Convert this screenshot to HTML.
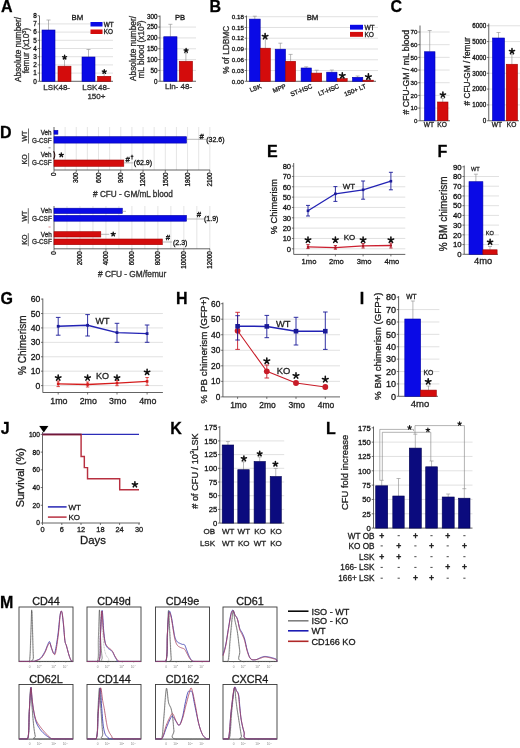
<!DOCTYPE html>
<html><head><meta charset="utf-8"><style>
html,body{margin:0;padding:0;background:#fff;}
body{width:520px;height:748px;overflow:hidden;}
svg{display:block;will-change:transform;filter:blur(0.5px);font-family:"Liberation Sans", sans-serif;}
text{stroke:#1a1a1a;stroke-width:0.3px;paint-order:stroke;}
</style></head><body>
<svg width="520" height="748" viewBox="0 0 520 748">
<rect width="520" height="748" fill="#fff"/>
<text x="0.9" y="12.2" font-size="16" font-weight="bold" fill="#000">A</text>
<line x1="39.5" y1="73.1" x2="113" y2="73.1" stroke="#d4d4d4" stroke-width="0.7"/>
<line x1="39.5" y1="64.9" x2="113" y2="64.9" stroke="#d4d4d4" stroke-width="0.7"/>
<line x1="39.5" y1="56.7" x2="113" y2="56.7" stroke="#d4d4d4" stroke-width="0.7"/>
<line x1="39.5" y1="48.5" x2="113" y2="48.5" stroke="#d4d4d4" stroke-width="0.7"/>
<line x1="39.5" y1="40.3" x2="113" y2="40.3" stroke="#d4d4d4" stroke-width="0.7"/>
<line x1="39.5" y1="32.1" x2="113" y2="32.1" stroke="#d4d4d4" stroke-width="0.7"/>
<line x1="39.5" y1="23.9" x2="113" y2="23.9" stroke="#d4d4d4" stroke-width="0.7"/>
<line x1="39.5" y1="15.8" x2="39.5" y2="81.3" stroke="#3c3c3c" stroke-width="0.8"/>
<line x1="37.7" y1="81.3" x2="39.5" y2="81.3" stroke="#3c3c3c" stroke-width="0.7"/>
<text x="36.9" y="83.6" font-size="6.4" text-anchor="end" fill="#111">0</text>
<line x1="37.7" y1="73.1" x2="39.5" y2="73.1" stroke="#3c3c3c" stroke-width="0.7"/>
<text x="36.9" y="75.4" font-size="6.4" text-anchor="end" fill="#111">1</text>
<line x1="37.7" y1="64.9" x2="39.5" y2="64.9" stroke="#3c3c3c" stroke-width="0.7"/>
<text x="36.9" y="67.2" font-size="6.4" text-anchor="end" fill="#111">2</text>
<line x1="37.7" y1="56.7" x2="39.5" y2="56.7" stroke="#3c3c3c" stroke-width="0.7"/>
<text x="36.9" y="59" font-size="6.4" text-anchor="end" fill="#111">3</text>
<line x1="37.7" y1="48.5" x2="39.5" y2="48.5" stroke="#3c3c3c" stroke-width="0.7"/>
<text x="36.9" y="50.8" font-size="6.4" text-anchor="end" fill="#111">4</text>
<line x1="37.7" y1="40.3" x2="39.5" y2="40.3" stroke="#3c3c3c" stroke-width="0.7"/>
<text x="36.9" y="42.6" font-size="6.4" text-anchor="end" fill="#111">5</text>
<line x1="37.7" y1="32.1" x2="39.5" y2="32.1" stroke="#3c3c3c" stroke-width="0.7"/>
<text x="36.9" y="34.4" font-size="6.4" text-anchor="end" fill="#111">6</text>
<line x1="37.7" y1="23.9" x2="39.5" y2="23.9" stroke="#3c3c3c" stroke-width="0.7"/>
<text x="36.9" y="26.2" font-size="6.4" text-anchor="end" fill="#111">7</text>
<line x1="37.7" y1="15.7" x2="39.5" y2="15.7" stroke="#3c3c3c" stroke-width="0.7"/>
<text x="36.9" y="18" font-size="6.4" text-anchor="end" fill="#111">8</text>
<line x1="39.5" y1="81.3" x2="113" y2="81.3" stroke="#3c3c3c" stroke-width="0.8"/>
<line x1="48.5" y1="30" x2="48.5" y2="20" stroke="#8a8a8a" stroke-width="0.6"/>
<line x1="46.5" y1="20" x2="50.5" y2="20" stroke="#8a8a8a" stroke-width="0.6"/>
<line x1="64.5" y1="66.2" x2="64.5" y2="58.5" stroke="#8a8a8a" stroke-width="0.6"/>
<line x1="62.5" y1="58.5" x2="66.5" y2="58.5" stroke="#8a8a8a" stroke-width="0.6"/>
<line x1="88.5" y1="57" x2="88.5" y2="49.5" stroke="#8a8a8a" stroke-width="0.6"/>
<line x1="86.5" y1="49.5" x2="90.5" y2="49.5" stroke="#8a8a8a" stroke-width="0.6"/>
<line x1="104.15" y1="76.3" x2="104.15" y2="72.5" stroke="#8a8a8a" stroke-width="0.6"/>
<line x1="102.15" y1="72.5" x2="106.15" y2="72.5" stroke="#8a8a8a" stroke-width="0.6"/>
<rect x="42" y="30" width="13" height="51.3" fill="#0a0ae6" stroke="#0000a8" stroke-width="0.6"/>
<rect x="58" y="66.2" width="13" height="15.1" fill="#d40c0c" stroke="#a00000" stroke-width="0.6"/>
<rect x="82" y="57" width="13" height="24.3" fill="#0a0ae6" stroke="#0000a8" stroke-width="0.6"/>
<rect x="97.5" y="76.3" width="13.3" height="5" fill="#d40c0c" stroke="#a00000" stroke-width="0.6"/>
<path d="M64.6 57.3 L64.6 55.18 M64.6 57.3 L66.61 56.65 M64.6 57.3 L65.84 59.01 M64.6 57.3 L63.36 59.01 M64.6 57.3 L62.59 56.65" stroke="#111" stroke-width="1.35" stroke-linecap="round" fill="none"/>
<path d="M104.3 71.7 L104.3 69.58 M104.3 71.7 L106.31 71.05 M104.3 71.7 L105.54 73.41 M104.3 71.7 L103.06 73.41 M104.3 71.7 L102.29 71.05" stroke="#111" stroke-width="1.35" stroke-linecap="round" fill="none"/>
<rect x="90.5" y="22" width="12" height="4.5" fill="#0a0ae6"/>
<rect x="90.5" y="29.5" width="12" height="4.5" fill="#d40c0c"/>
<text x="103.8" y="26.7" font-size="6.4" fill="#222">WT</text>
<text x="103.8" y="34.2" font-size="6.4" fill="#222">KO</text>
<text x="77.3" y="20" font-size="7.8" text-anchor="middle" fill="#222">BM</text>
<text x="56.7" y="89.8" font-size="8" text-anchor="middle" fill="#333">LSK48-</text>
<text x="95.9" y="89.8" font-size="8" text-anchor="middle" fill="#333">LSK<tspan dx="0.7">48-</tspan></text>
<text x="96.4" y="98.9" font-size="8" text-anchor="middle" fill="#333">150+</text>
<text x="20.9" y="49.5" font-size="8.3" text-anchor="middle" fill="#333" transform="rotate(-90 20.9 49.5)">Absolute number/</text>
<text x="29.3" y="50.6" font-size="8.3" text-anchor="middle" fill="#333" transform="rotate(-90 29.3 50.6)">femur (x10<tspan font-size="5.5" dy="-3.2">3</tspan><tspan dy="3.2">)</tspan></text>
<line x1="160" y1="70.42" x2="196" y2="70.42" stroke="#d4d4d4" stroke-width="0.7"/>
<line x1="160" y1="59.58" x2="196" y2="59.58" stroke="#d4d4d4" stroke-width="0.7"/>
<line x1="160" y1="48.75" x2="196" y2="48.75" stroke="#d4d4d4" stroke-width="0.7"/>
<line x1="160" y1="37.92" x2="196" y2="37.92" stroke="#d4d4d4" stroke-width="0.7"/>
<line x1="160" y1="27.08" x2="196" y2="27.08" stroke="#d4d4d4" stroke-width="0.7"/>
<line x1="160" y1="15.5" x2="160" y2="81.25" stroke="#3c3c3c" stroke-width="0.8"/>
<line x1="158.2" y1="81.25" x2="160" y2="81.25" stroke="#3c3c3c" stroke-width="0.7"/>
<text x="157.4" y="83.52" font-size="6.3" text-anchor="end" fill="#111">0</text>
<line x1="158.2" y1="70.42" x2="160" y2="70.42" stroke="#3c3c3c" stroke-width="0.7"/>
<text x="157.4" y="72.68" font-size="6.3" text-anchor="end" fill="#111">50</text>
<line x1="158.2" y1="59.58" x2="160" y2="59.58" stroke="#3c3c3c" stroke-width="0.7"/>
<text x="157.4" y="61.85" font-size="6.3" text-anchor="end" fill="#111">100</text>
<line x1="158.2" y1="48.75" x2="160" y2="48.75" stroke="#3c3c3c" stroke-width="0.7"/>
<text x="157.4" y="51.02" font-size="6.3" text-anchor="end" fill="#111">150</text>
<line x1="158.2" y1="37.92" x2="160" y2="37.92" stroke="#3c3c3c" stroke-width="0.7"/>
<text x="157.4" y="40.18" font-size="6.3" text-anchor="end" fill="#111">200</text>
<line x1="158.2" y1="27.08" x2="160" y2="27.08" stroke="#3c3c3c" stroke-width="0.7"/>
<text x="157.4" y="29.35" font-size="6.3" text-anchor="end" fill="#111">250</text>
<line x1="158.2" y1="16.25" x2="160" y2="16.25" stroke="#3c3c3c" stroke-width="0.7"/>
<text x="157.4" y="18.52" font-size="6.3" text-anchor="end" fill="#111">300</text>
<line x1="160" y1="81.25" x2="196" y2="81.25" stroke="#3c3c3c" stroke-width="0.8"/>
<line x1="170.4" y1="36.75" x2="170.4" y2="24.3" stroke="#8a8a8a" stroke-width="0.6"/>
<line x1="168.4" y1="24.3" x2="172.4" y2="24.3" stroke="#8a8a8a" stroke-width="0.6"/>
<line x1="185.9" y1="61.25" x2="185.9" y2="53" stroke="#8a8a8a" stroke-width="0.6"/>
<line x1="183.9" y1="53" x2="187.9" y2="53" stroke="#8a8a8a" stroke-width="0.6"/>
<rect x="163.75" y="36.75" width="13.25" height="44.5" fill="#0a0ae6" stroke="#0000a8" stroke-width="0.6"/>
<rect x="179.25" y="61.25" width="13.25" height="20" fill="#d40c0c" stroke="#a00000" stroke-width="0.6"/>
<path d="M186.1 50.5 L186.1 48.38 M186.1 50.5 L188.11 49.85 M186.1 50.5 L187.34 52.21 M186.1 50.5 L184.86 52.21 M186.1 50.5 L184.09 49.85" stroke="#111" stroke-width="1.35" stroke-linecap="round" fill="none"/>
<text x="180" y="19.8" font-size="7.6" text-anchor="middle" fill="#111">PB</text>
<text x="178.5" y="89.2" font-size="8" text-anchor="middle" fill="#333">Lin- 48-</text>
<text x="135.8" y="48.5" font-size="8.3" text-anchor="middle" fill="#333" transform="rotate(-90 135.8 48.5)">Absolute number/</text>
<text x="144" y="49.5" font-size="8.3" text-anchor="middle" fill="#333" transform="rotate(-90 144 49.5)">mL blood (x10<tspan font-size="5.5" dy="-3.2">3</tspan><tspan dy="3.2">)</tspan></text>
<text x="209.6" y="12.2" font-size="16" font-weight="bold" fill="#000">B</text>
<line x1="246.5" y1="70.53" x2="378" y2="70.53" stroke="#d4d4d4" stroke-width="0.7"/>
<line x1="246.5" y1="59.77" x2="378" y2="59.77" stroke="#d4d4d4" stroke-width="0.7"/>
<line x1="246.5" y1="49" x2="378" y2="49" stroke="#d4d4d4" stroke-width="0.7"/>
<line x1="246.5" y1="38.23" x2="378" y2="38.23" stroke="#d4d4d4" stroke-width="0.7"/>
<line x1="246.5" y1="27.47" x2="378" y2="27.47" stroke="#d4d4d4" stroke-width="0.7"/>
<line x1="246.5" y1="16.7" x2="378" y2="16.7" stroke="#d4d4d4" stroke-width="0.7"/>
<line x1="246.5" y1="15.5" x2="246.5" y2="81.3" stroke="#3c3c3c" stroke-width="0.8"/>
<line x1="244.7" y1="81.3" x2="246.5" y2="81.3" stroke="#3c3c3c" stroke-width="0.7"/>
<text x="243.9" y="83.53" font-size="6.2" text-anchor="end" fill="#111">0.00</text>
<line x1="244.7" y1="70.53" x2="246.5" y2="70.53" stroke="#3c3c3c" stroke-width="0.7"/>
<text x="243.9" y="72.77" font-size="6.2" text-anchor="end" fill="#111">0.03</text>
<line x1="244.7" y1="59.77" x2="246.5" y2="59.77" stroke="#3c3c3c" stroke-width="0.7"/>
<text x="243.9" y="62" font-size="6.2" text-anchor="end" fill="#111">0.06</text>
<line x1="244.7" y1="49" x2="246.5" y2="49" stroke="#3c3c3c" stroke-width="0.7"/>
<text x="243.9" y="51.23" font-size="6.2" text-anchor="end" fill="#111">0.09</text>
<line x1="244.7" y1="38.23" x2="246.5" y2="38.23" stroke="#3c3c3c" stroke-width="0.7"/>
<text x="243.9" y="40.47" font-size="6.2" text-anchor="end" fill="#111">0.12</text>
<line x1="244.7" y1="27.47" x2="246.5" y2="27.47" stroke="#3c3c3c" stroke-width="0.7"/>
<text x="243.9" y="29.7" font-size="6.2" text-anchor="end" fill="#111">0.15</text>
<line x1="244.7" y1="16.7" x2="246.5" y2="16.7" stroke="#3c3c3c" stroke-width="0.7"/>
<text x="243.9" y="18.93" font-size="6.2" text-anchor="end" fill="#111">0.18</text>
<line x1="246.5" y1="81.3" x2="376" y2="81.3" stroke="#3c3c3c" stroke-width="0.8"/>
<line x1="254.8" y1="19.1" x2="254.8" y2="16.2" stroke="#8a8a8a" stroke-width="0.6"/>
<line x1="252.8" y1="16.2" x2="256.8" y2="16.2" stroke="#8a8a8a" stroke-width="0.6"/>
<line x1="265.35" y1="48.2" x2="265.35" y2="38" stroke="#8a8a8a" stroke-width="0.6"/>
<line x1="263.35" y1="38" x2="267.35" y2="38" stroke="#8a8a8a" stroke-width="0.6"/>
<line x1="280.35" y1="49.2" x2="280.35" y2="43.2" stroke="#8a8a8a" stroke-width="0.6"/>
<line x1="278.35" y1="43.2" x2="282.35" y2="43.2" stroke="#8a8a8a" stroke-width="0.6"/>
<line x1="290.6" y1="61.3" x2="290.6" y2="54.4" stroke="#8a8a8a" stroke-width="0.6"/>
<line x1="288.6" y1="54.4" x2="292.6" y2="54.4" stroke="#8a8a8a" stroke-width="0.6"/>
<line x1="306.2" y1="68" x2="306.2" y2="66.8" stroke="#8a8a8a" stroke-width="0.6"/>
<line x1="304.2" y1="66.8" x2="308.2" y2="66.8" stroke="#8a8a8a" stroke-width="0.6"/>
<line x1="316.65" y1="73.1" x2="316.65" y2="70.2" stroke="#8a8a8a" stroke-width="0.6"/>
<line x1="314.65" y1="70.2" x2="318.65" y2="70.2" stroke="#8a8a8a" stroke-width="0.6"/>
<line x1="331.85" y1="72.2" x2="331.85" y2="70" stroke="#8a8a8a" stroke-width="0.6"/>
<line x1="329.85" y1="70" x2="333.85" y2="70" stroke="#8a8a8a" stroke-width="0.6"/>
<line x1="342.15" y1="78.6" x2="342.15" y2="77.5" stroke="#8a8a8a" stroke-width="0.6"/>
<line x1="340.15" y1="77.5" x2="344.15" y2="77.5" stroke="#8a8a8a" stroke-width="0.6"/>
<line x1="357.65" y1="77.3" x2="357.65" y2="76" stroke="#8a8a8a" stroke-width="0.6"/>
<line x1="355.65" y1="76" x2="359.65" y2="76" stroke="#8a8a8a" stroke-width="0.6"/>
<line x1="368.1" y1="80.2" x2="368.1" y2="79.5" stroke="#8a8a8a" stroke-width="0.6"/>
<line x1="366.1" y1="79.5" x2="370.1" y2="79.5" stroke="#8a8a8a" stroke-width="0.6"/>
<rect x="249.4" y="19.1" width="10.8" height="62.2" fill="#0a0ae6" stroke="#0000a8" stroke-width="0.6"/>
<rect x="260.4" y="48.2" width="9.9" height="33.1" fill="#d40c0c" stroke="#a00000" stroke-width="0.6"/>
<rect x="275.2" y="49.2" width="10.3" height="32.1" fill="#0a0ae6" stroke="#0000a8" stroke-width="0.6"/>
<rect x="285.6" y="61.3" width="10" height="20" fill="#d40c0c" stroke="#a00000" stroke-width="0.6"/>
<rect x="301.1" y="68" width="10.2" height="13.3" fill="#0a0ae6" stroke="#0000a8" stroke-width="0.6"/>
<rect x="311.6" y="73.1" width="10.1" height="8.2" fill="#d40c0c" stroke="#a00000" stroke-width="0.6"/>
<rect x="326.7" y="72.2" width="10.3" height="9.1" fill="#0a0ae6" stroke="#0000a8" stroke-width="0.6"/>
<rect x="337.1" y="78.6" width="10.1" height="2.7" fill="#d40c0c" stroke="#a00000" stroke-width="0.6"/>
<rect x="352.5" y="77.3" width="10.3" height="4" fill="#0a0ae6" stroke="#0000a8" stroke-width="0.6"/>
<rect x="362.9" y="80.2" width="10.4" height="1.1" fill="#d40c0c" stroke="#a00000" stroke-width="0.6"/>
<path d="M265.1 36.5 L265.1 33.56 M265.1 36.5 L267.9 35.59 M265.1 36.5 L266.83 38.88 M265.1 36.5 L263.37 38.88 M265.1 36.5 L262.3 35.59" stroke="#111" stroke-width="1.55" stroke-linecap="round" fill="none"/>
<path d="M342.3 75.6 L342.3 72.66 M342.3 75.6 L345.1 74.69 M342.3 75.6 L344.03 77.98 M342.3 75.6 L340.57 77.98 M342.3 75.6 L339.5 74.69" stroke="#111" stroke-width="1.55" stroke-linecap="round" fill="none"/>
<path d="M368.4 76.8 L368.4 73.86 M368.4 76.8 L371.2 75.89 M368.4 76.8 L370.13 79.18 M368.4 76.8 L366.67 79.18 M368.4 76.8 L365.6 75.89" stroke="#111" stroke-width="1.55" stroke-linecap="round" fill="none"/>
<rect x="350" y="24.8" width="13" height="4.8" fill="#0a0ae6"/>
<rect x="350" y="31.9" width="13" height="4.9" fill="#d40c0c"/>
<text x="364.4" y="29.7" font-size="6.6" fill="#222">WT</text>
<text x="364.4" y="36.9" font-size="6.6" fill="#222">KO</text>
<text x="312.5" y="19.9" font-size="7.8" text-anchor="middle" fill="#222">BM</text>
<text font-size="6.3" text-anchor="end" fill="#222" transform="translate(261.8 87.9) rotate(-22)">LSK</text>
<text font-size="6.3" text-anchor="end" fill="#222" transform="translate(286.5 87.9) rotate(-22)">MPP</text>
<text font-size="6.3" text-anchor="end" fill="#222" transform="translate(312.8 87.9) rotate(-22)">ST-HSC</text>
<text font-size="6.3" text-anchor="end" fill="#222" transform="translate(339.5 87.9) rotate(-22)">LT-HSC</text>
<text font-size="6.3" text-anchor="end" fill="#222" transform="translate(366.5 87.9) rotate(-22)">150+ LT</text>
<text x="228.8" y="49.7" font-size="8.3" text-anchor="middle" fill="#333" transform="rotate(-90 228.8 49.7)">% of LDBMC</text>
<text x="390.4" y="12.2" font-size="16" font-weight="bold" fill="#000">C</text>
<line x1="420" y1="108.07" x2="449.6" y2="108.07" stroke="#d4d4d4" stroke-width="0.7"/>
<line x1="420" y1="95.39" x2="449.6" y2="95.39" stroke="#d4d4d4" stroke-width="0.7"/>
<line x1="420" y1="82.71" x2="449.6" y2="82.71" stroke="#d4d4d4" stroke-width="0.7"/>
<line x1="420" y1="70.04" x2="449.6" y2="70.04" stroke="#d4d4d4" stroke-width="0.7"/>
<line x1="420" y1="57.36" x2="449.6" y2="57.36" stroke="#d4d4d4" stroke-width="0.7"/>
<line x1="420" y1="44.68" x2="449.6" y2="44.68" stroke="#d4d4d4" stroke-width="0.7"/>
<line x1="420" y1="32" x2="449.6" y2="32" stroke="#d4d4d4" stroke-width="0.7"/>
<line x1="420" y1="25.5" x2="420" y2="120.75" stroke="#3c3c3c" stroke-width="0.8"/>
<line x1="418.2" y1="120.75" x2="420" y2="120.75" stroke="#3c3c3c" stroke-width="0.7"/>
<text x="417.4" y="122.98" font-size="6.2" text-anchor="end" fill="#111">0</text>
<line x1="418.2" y1="108.07" x2="420" y2="108.07" stroke="#3c3c3c" stroke-width="0.7"/>
<text x="417.4" y="110.3" font-size="6.2" text-anchor="end" fill="#111">10</text>
<line x1="418.2" y1="95.39" x2="420" y2="95.39" stroke="#3c3c3c" stroke-width="0.7"/>
<text x="417.4" y="97.62" font-size="6.2" text-anchor="end" fill="#111">20</text>
<line x1="418.2" y1="82.71" x2="420" y2="82.71" stroke="#3c3c3c" stroke-width="0.7"/>
<text x="417.4" y="84.95" font-size="6.2" text-anchor="end" fill="#111">30</text>
<line x1="418.2" y1="70.04" x2="420" y2="70.04" stroke="#3c3c3c" stroke-width="0.7"/>
<text x="417.4" y="72.27" font-size="6.2" text-anchor="end" fill="#111">40</text>
<line x1="418.2" y1="57.36" x2="420" y2="57.36" stroke="#3c3c3c" stroke-width="0.7"/>
<text x="417.4" y="59.59" font-size="6.2" text-anchor="end" fill="#111">50</text>
<line x1="418.2" y1="44.68" x2="420" y2="44.68" stroke="#3c3c3c" stroke-width="0.7"/>
<text x="417.4" y="46.91" font-size="6.2" text-anchor="end" fill="#111">60</text>
<line x1="418.2" y1="32" x2="420" y2="32" stroke="#3c3c3c" stroke-width="0.7"/>
<text x="417.4" y="34.23" font-size="6.2" text-anchor="end" fill="#111">70</text>
<line x1="420" y1="120.75" x2="450" y2="120.75" stroke="#3c3c3c" stroke-width="0.8"/>
<line x1="429.7" y1="51.75" x2="429.7" y2="30.5" stroke="#8a8a8a" stroke-width="0.6"/>
<line x1="427.7" y1="30.5" x2="431.7" y2="30.5" stroke="#8a8a8a" stroke-width="0.6"/>
<line x1="442.7" y1="102" x2="442.7" y2="98.5" stroke="#8a8a8a" stroke-width="0.6"/>
<line x1="440.7" y1="98.5" x2="444.7" y2="98.5" stroke="#8a8a8a" stroke-width="0.6"/>
<rect x="424.5" y="51.75" width="10.5" height="69" fill="#0a0ae6" stroke="#0000a8" stroke-width="0.6"/>
<rect x="437.5" y="102" width="10.5" height="18.75" fill="#d40c0c" stroke="#a00000" stroke-width="0.6"/>
<path d="M442.9 94.9 L442.9 92.14 M442.9 94.9 L445.52 94.05 M442.9 94.9 L444.52 97.13 M442.9 94.9 L441.28 97.13 M442.9 94.9 L440.28 94.05" stroke="#111" stroke-width="1.55" stroke-linecap="round" fill="none"/>
<text x="428.9" y="126.9" font-size="6.6" text-anchor="middle" fill="#222">WT</text>
<text x="442" y="126.9" font-size="6.6" text-anchor="middle" fill="#222">KO</text>
<text x="408.6" y="72.2" font-size="8.7" text-anchor="middle" fill="#222" transform="rotate(-90 408.6 72.2)"># CFU-GM / mL blood</text>
<line x1="488.75" y1="104.92" x2="520" y2="104.92" stroke="#d4d4d4" stroke-width="0.7"/>
<line x1="488.75" y1="89.08" x2="520" y2="89.08" stroke="#d4d4d4" stroke-width="0.7"/>
<line x1="488.75" y1="73.25" x2="520" y2="73.25" stroke="#d4d4d4" stroke-width="0.7"/>
<line x1="488.75" y1="57.42" x2="520" y2="57.42" stroke="#d4d4d4" stroke-width="0.7"/>
<line x1="488.75" y1="41.58" x2="520" y2="41.58" stroke="#d4d4d4" stroke-width="0.7"/>
<line x1="488.75" y1="25.75" x2="520" y2="25.75" stroke="#d4d4d4" stroke-width="0.7"/>
<line x1="488.75" y1="23.5" x2="488.75" y2="120.75" stroke="#3c3c3c" stroke-width="0.8"/>
<line x1="486.95" y1="120.75" x2="488.75" y2="120.75" stroke="#3c3c3c" stroke-width="0.7"/>
<text x="486.15" y="123.02" font-size="6.3" text-anchor="end" fill="#111">0</text>
<line x1="486.95" y1="104.92" x2="488.75" y2="104.92" stroke="#3c3c3c" stroke-width="0.7"/>
<text x="486.15" y="107.18" font-size="6.3" text-anchor="end" fill="#111">1000</text>
<line x1="486.95" y1="89.08" x2="488.75" y2="89.08" stroke="#3c3c3c" stroke-width="0.7"/>
<text x="486.15" y="91.35" font-size="6.3" text-anchor="end" fill="#111">2000</text>
<line x1="486.95" y1="73.25" x2="488.75" y2="73.25" stroke="#3c3c3c" stroke-width="0.7"/>
<text x="486.15" y="75.52" font-size="6.3" text-anchor="end" fill="#111">3000</text>
<line x1="486.95" y1="57.42" x2="488.75" y2="57.42" stroke="#3c3c3c" stroke-width="0.7"/>
<text x="486.15" y="59.68" font-size="6.3" text-anchor="end" fill="#111">4000</text>
<line x1="486.95" y1="41.58" x2="488.75" y2="41.58" stroke="#3c3c3c" stroke-width="0.7"/>
<text x="486.15" y="43.85" font-size="6.3" text-anchor="end" fill="#111">5000</text>
<line x1="486.95" y1="25.75" x2="488.75" y2="25.75" stroke="#3c3c3c" stroke-width="0.7"/>
<text x="486.15" y="28.02" font-size="6.3" text-anchor="end" fill="#111">6000</text>
<line x1="488.75" y1="120.75" x2="519" y2="120.75" stroke="#3c3c3c" stroke-width="0.8"/>
<line x1="498.5" y1="38" x2="498.5" y2="32.5" stroke="#8a8a8a" stroke-width="0.6"/>
<line x1="496.5" y1="32.5" x2="500.5" y2="32.5" stroke="#8a8a8a" stroke-width="0.6"/>
<line x1="511.9" y1="64.25" x2="511.9" y2="54.5" stroke="#8a8a8a" stroke-width="0.6"/>
<line x1="509.9" y1="54.5" x2="513.9" y2="54.5" stroke="#8a8a8a" stroke-width="0.6"/>
<rect x="492.5" y="38" width="12" height="82.75" fill="#0a0ae6" stroke="#0000a8" stroke-width="0.6"/>
<rect x="506.25" y="64.25" width="11.25" height="56.5" fill="#d40c0c" stroke="#a00000" stroke-width="0.6"/>
<path d="M512 51.3 L512 48.63 M512 51.3 L514.54 50.48 M512 51.3 L513.57 53.46 M512 51.3 L510.43 53.46 M512 51.3 L509.46 50.48" stroke="#111" stroke-width="1.55" stroke-linecap="round" fill="none"/>
<text x="497" y="126.9" font-size="6.6" text-anchor="middle" fill="#222">WT</text>
<text x="511.6" y="126.9" font-size="6.6" text-anchor="middle" fill="#222">KO</text>
<text x="470.1" y="71.3" font-size="8.3" text-anchor="middle" fill="#222" transform="rotate(-90 470.1 71.3)"># CFU-GM / femur</text>
<text x="0.1" y="138" font-size="16" font-weight="bold" fill="#000">D</text>
<line x1="65.13" y1="127" x2="65.13" y2="170" stroke="#d4d4d4" stroke-width="0.6"/>
<line x1="76.26" y1="127" x2="76.26" y2="170" stroke="#d4d4d4" stroke-width="0.6"/>
<line x1="87.39" y1="127" x2="87.39" y2="170" stroke="#d4d4d4" stroke-width="0.6"/>
<line x1="98.52" y1="127" x2="98.52" y2="170" stroke="#d4d4d4" stroke-width="0.6"/>
<line x1="109.65" y1="127" x2="109.65" y2="170" stroke="#d4d4d4" stroke-width="0.6"/>
<line x1="120.78" y1="127" x2="120.78" y2="170" stroke="#d4d4d4" stroke-width="0.6"/>
<line x1="131.91" y1="127" x2="131.91" y2="170" stroke="#d4d4d4" stroke-width="0.6"/>
<line x1="143.04" y1="127" x2="143.04" y2="170" stroke="#d4d4d4" stroke-width="0.6"/>
<line x1="154.17" y1="127" x2="154.17" y2="170" stroke="#d4d4d4" stroke-width="0.6"/>
<line x1="165.3" y1="127" x2="165.3" y2="170" stroke="#d4d4d4" stroke-width="0.6"/>
<line x1="176.43" y1="127" x2="176.43" y2="170" stroke="#d4d4d4" stroke-width="0.6"/>
<line x1="187.56" y1="127" x2="187.56" y2="170" stroke="#d4d4d4" stroke-width="0.6"/>
<line x1="198.69" y1="127" x2="198.69" y2="170" stroke="#d4d4d4" stroke-width="0.6"/>
<line x1="209.82" y1="127" x2="209.82" y2="170" stroke="#d4d4d4" stroke-width="0.6"/>
<line x1="54" y1="127" x2="54" y2="170" stroke="#3c3c3c" stroke-width="0.8"/>
<line x1="54" y1="170" x2="210" y2="170" stroke="#3c3c3c" stroke-width="0.8"/>
<line x1="54" y1="170" x2="54" y2="172" stroke="#3c3c3c" stroke-width="0.7"/>
<text font-size="6.3" text-anchor="end" fill="#111" transform="translate(56.2 172.5) rotate(-90)">0</text>
<line x1="76.26" y1="170" x2="76.26" y2="172" stroke="#3c3c3c" stroke-width="0.7"/>
<text font-size="6.3" text-anchor="end" fill="#111" transform="translate(78.46 172.5) rotate(-90)">300</text>
<line x1="98.52" y1="170" x2="98.52" y2="172" stroke="#3c3c3c" stroke-width="0.7"/>
<text font-size="6.3" text-anchor="end" fill="#111" transform="translate(100.72 172.5) rotate(-90)">600</text>
<line x1="120.78" y1="170" x2="120.78" y2="172" stroke="#3c3c3c" stroke-width="0.7"/>
<text font-size="6.3" text-anchor="end" fill="#111" transform="translate(122.98 172.5) rotate(-90)">900</text>
<line x1="143.04" y1="170" x2="143.04" y2="172" stroke="#3c3c3c" stroke-width="0.7"/>
<text font-size="6.3" text-anchor="end" fill="#111" transform="translate(145.24 172.5) rotate(-90)">1200</text>
<line x1="165.3" y1="170" x2="165.3" y2="172" stroke="#3c3c3c" stroke-width="0.7"/>
<text font-size="6.3" text-anchor="end" fill="#111" transform="translate(167.5 172.5) rotate(-90)">1500</text>
<line x1="187.56" y1="170" x2="187.56" y2="172" stroke="#3c3c3c" stroke-width="0.7"/>
<text font-size="6.3" text-anchor="end" fill="#111" transform="translate(189.76 172.5) rotate(-90)">1800</text>
<line x1="209.82" y1="170" x2="209.82" y2="172" stroke="#3c3c3c" stroke-width="0.7"/>
<text font-size="6.3" text-anchor="end" fill="#111" transform="translate(212.02 172.5) rotate(-90)">2100</text>
<rect x="54" y="130.4" width="3.9" height="3.8" fill="#0a0ae6" stroke="#0000a8" stroke-width="0.6"/>
<rect x="54" y="136.7" width="132.5" height="6.4" fill="#0a0ae6" stroke="#0000a8" stroke-width="0.6"/>
<line x1="186.5" y1="139.3" x2="206" y2="139.3" stroke="#8a8a8a" stroke-width="0.6"/>
<text x="199.6" y="138.8" font-size="7.8" font-weight="bold" fill="#111">#</text>
<text x="206.2" y="142.4" font-size="7" fill="#111">(32.6)</text>
<path d="M53.6 151.2 Q56 155.2 53.6 159.2" stroke="#2a0a0a" stroke-width="1.1" fill="none"/>
<path d="M61.3 155 L61.3 152.88 M61.3 155 L63.31 154.35 M61.3 155 L62.54 156.71 M61.3 155 L60.06 156.71 M61.3 155 L59.29 154.35" stroke="#111" stroke-width="1.35" stroke-linecap="round" fill="none"/>
<rect x="54" y="160" width="69.8" height="6.3" fill="#d40c0c" stroke="#a00000" stroke-width="0.6"/>
<line x1="123.8" y1="162.9" x2="133.5" y2="162.9" stroke="#8a8a8a" stroke-width="0.6"/>
<text x="125.6" y="161.8" font-size="7.8" font-weight="bold" fill="#111">#</text>
<text x="130.5" y="158.6" font-size="5.5" font-weight="bold" fill="#111">&#8224;</text>
<text x="133.8" y="165.3" font-size="7" fill="#111">(62.9)</text>
<text x="51.6" y="134.8" font-size="6.3" text-anchor="end" fill="#333">Veh</text>
<text x="51.6" y="142.8" font-size="6.3" text-anchor="end" fill="#333">G-CSF</text>
<text x="51.6" y="157.4" font-size="6.3" text-anchor="end" fill="#333">Veh</text>
<text x="51.6" y="165.4" font-size="6.3" text-anchor="end" fill="#333">G-CSF</text>
<text x="26.8" y="136.2" font-size="6.9" text-anchor="middle" fill="#333" transform="rotate(-90 26.8 136.2)">WT</text>
<line x1="28.5" y1="128.5" x2="28.5" y2="143.5" stroke="#444" stroke-width="0.8"/>
<text x="26.9" y="159.3" font-size="7.1" text-anchor="middle" fill="#333" transform="rotate(-90 26.9 159.3)">KO</text>
<line x1="28.6" y1="153" x2="28.6" y2="166.5" stroke="#444" stroke-width="0.8"/>
<line x1="48.5" y1="147.8" x2="50.6" y2="147.8" stroke="#3c3c3c" stroke-width="0.6"/>
<text x="133" y="196.6" font-size="8.2" text-anchor="middle" fill="#333"># CFU - GM/mL blood</text>
<line x1="66.98" y1="206" x2="66.98" y2="248.8" stroke="#d4d4d4" stroke-width="0.6"/>
<line x1="79.97" y1="206" x2="79.97" y2="248.8" stroke="#d4d4d4" stroke-width="0.6"/>
<line x1="92.95" y1="206" x2="92.95" y2="248.8" stroke="#d4d4d4" stroke-width="0.6"/>
<line x1="105.94" y1="206" x2="105.94" y2="248.8" stroke="#d4d4d4" stroke-width="0.6"/>
<line x1="118.92" y1="206" x2="118.92" y2="248.8" stroke="#d4d4d4" stroke-width="0.6"/>
<line x1="131.91" y1="206" x2="131.91" y2="248.8" stroke="#d4d4d4" stroke-width="0.6"/>
<line x1="144.89" y1="206" x2="144.89" y2="248.8" stroke="#d4d4d4" stroke-width="0.6"/>
<line x1="157.88" y1="206" x2="157.88" y2="248.8" stroke="#d4d4d4" stroke-width="0.6"/>
<line x1="170.87" y1="206" x2="170.87" y2="248.8" stroke="#d4d4d4" stroke-width="0.6"/>
<line x1="183.85" y1="206" x2="183.85" y2="248.8" stroke="#d4d4d4" stroke-width="0.6"/>
<line x1="196.83" y1="206" x2="196.83" y2="248.8" stroke="#d4d4d4" stroke-width="0.6"/>
<line x1="209.82" y1="206" x2="209.82" y2="248.8" stroke="#d4d4d4" stroke-width="0.6"/>
<line x1="54" y1="206" x2="54" y2="248.8" stroke="#3c3c3c" stroke-width="0.8"/>
<line x1="54" y1="248.8" x2="210" y2="248.8" stroke="#3c3c3c" stroke-width="0.8"/>
<line x1="54" y1="248.8" x2="54" y2="250.8" stroke="#3c3c3c" stroke-width="0.7"/>
<text font-size="6.3" text-anchor="end" fill="#111" transform="translate(56.2 251.3) rotate(-90)">0</text>
<line x1="79.97" y1="248.8" x2="79.97" y2="250.8" stroke="#3c3c3c" stroke-width="0.7"/>
<text font-size="6.3" text-anchor="end" fill="#111" transform="translate(82.17 251.3) rotate(-90)">2000</text>
<line x1="105.94" y1="248.8" x2="105.94" y2="250.8" stroke="#3c3c3c" stroke-width="0.7"/>
<text font-size="6.3" text-anchor="end" fill="#111" transform="translate(108.14 251.3) rotate(-90)">4000</text>
<line x1="131.91" y1="248.8" x2="131.91" y2="250.8" stroke="#3c3c3c" stroke-width="0.7"/>
<text font-size="6.3" text-anchor="end" fill="#111" transform="translate(134.11 251.3) rotate(-90)">6000</text>
<line x1="157.88" y1="248.8" x2="157.88" y2="250.8" stroke="#3c3c3c" stroke-width="0.7"/>
<text font-size="6.3" text-anchor="end" fill="#111" transform="translate(160.08 251.3) rotate(-90)">8000</text>
<line x1="183.85" y1="248.8" x2="183.85" y2="250.8" stroke="#3c3c3c" stroke-width="0.7"/>
<text font-size="6.3" text-anchor="end" fill="#111" transform="translate(186.05 251.3) rotate(-90)">10000</text>
<line x1="209.82" y1="248.8" x2="209.82" y2="250.8" stroke="#3c3c3c" stroke-width="0.7"/>
<text font-size="6.3" text-anchor="end" fill="#111" transform="translate(212.02 251.3) rotate(-90)">12000</text>
<rect x="54" y="208.2" width="68.3" height="5.3" fill="#0a0ae6" stroke="#0000a8" stroke-width="0.6"/>
<line x1="122.3" y1="211.3" x2="126" y2="211.3" stroke="#8a8a8a" stroke-width="0.6"/>
<rect x="54" y="215.4" width="132.5" height="5.8" fill="#0a0ae6" stroke="#0000a8" stroke-width="0.6"/>
<line x1="186.5" y1="219" x2="204" y2="219" stroke="#8a8a8a" stroke-width="0.6"/>
<text x="196.8" y="217.4" font-size="7.8" font-weight="bold" fill="#111">#</text>
<text x="204" y="221.3" font-size="7" fill="#111">(1.9)</text>
<rect x="54" y="231.7" width="46.8" height="5.3" fill="#d40c0c" stroke="#a00000" stroke-width="0.6"/>
<line x1="100.8" y1="234.3" x2="109.2" y2="234.3" stroke="#8a8a8a" stroke-width="0.6"/>
<path d="M113.2 234.2 L113.2 232.08 M113.2 234.2 L115.21 233.55 M113.2 234.2 L114.44 235.91 M113.2 234.2 L111.96 235.91 M113.2 234.2 L111.19 233.55" stroke="#111" stroke-width="1.35" stroke-linecap="round" fill="none"/>
<rect x="54" y="239" width="108.3" height="5.7" fill="#d40c0c" stroke="#a00000" stroke-width="0.6"/>
<line x1="162.3" y1="242" x2="172" y2="242" stroke="#8a8a8a" stroke-width="0.6"/>
<text x="165.8" y="240.2" font-size="7.8" font-weight="bold" fill="#111">#</text>
<text x="173" y="245" font-size="7" fill="#111">(2.3)</text>
<text x="51.8" y="213.2" font-size="6.4" text-anchor="end" fill="#333">Veh</text>
<text x="51.8" y="221.3" font-size="6.4" text-anchor="end" fill="#333">G-CSF</text>
<text x="51.8" y="236.6" font-size="6.4" text-anchor="end" fill="#333">Veh</text>
<text x="51.8" y="244.3" font-size="6.4" text-anchor="end" fill="#333">G-CSF</text>
<text x="26.8" y="216.1" font-size="6.9" text-anchor="middle" fill="#333" transform="rotate(-90 26.8 216.1)">WT</text>
<line x1="28.3" y1="208.2" x2="28.3" y2="223.6" stroke="#444" stroke-width="0.8"/>
<text x="26.9" y="239.5" font-size="7.1" text-anchor="middle" fill="#333" transform="rotate(-90 26.9 239.5)">KO</text>
<line x1="28.3" y1="233.2" x2="28.3" y2="246.2" stroke="#444" stroke-width="0.8"/>
<line x1="48.5" y1="227" x2="50.6" y2="227" stroke="#c44" stroke-width="0.6"/>
<text x="132.1" y="277" font-size="8.3" text-anchor="middle" fill="#333"># CFU - GM/femur</text>
<text x="267" y="156.9" font-size="16" font-weight="bold" fill="#000">E</text>
<line x1="293.7" y1="248.8" x2="405.3" y2="248.8" stroke="#d4d4d4" stroke-width="0.7"/>
<line x1="293.7" y1="238.46" x2="405.3" y2="238.46" stroke="#d4d4d4" stroke-width="0.7"/>
<line x1="293.7" y1="228.12" x2="405.3" y2="228.12" stroke="#d4d4d4" stroke-width="0.7"/>
<line x1="293.7" y1="217.79" x2="405.3" y2="217.79" stroke="#d4d4d4" stroke-width="0.7"/>
<line x1="293.7" y1="207.45" x2="405.3" y2="207.45" stroke="#d4d4d4" stroke-width="0.7"/>
<line x1="293.7" y1="197.11" x2="405.3" y2="197.11" stroke="#d4d4d4" stroke-width="0.7"/>
<line x1="293.7" y1="186.78" x2="405.3" y2="186.78" stroke="#d4d4d4" stroke-width="0.7"/>
<line x1="293.7" y1="176.44" x2="405.3" y2="176.44" stroke="#d4d4d4" stroke-width="0.7"/>
<line x1="293.7" y1="163" x2="293.7" y2="254.4" stroke="#3c3c3c" stroke-width="0.8"/>
<line x1="291.9" y1="248.8" x2="293.7" y2="248.8" stroke="#3c3c3c" stroke-width="0.7"/>
<text x="291.1" y="251.54" font-size="7.6" text-anchor="end" fill="#111">0</text>
<line x1="291.9" y1="238.46" x2="293.7" y2="238.46" stroke="#3c3c3c" stroke-width="0.7"/>
<text x="291.1" y="241.2" font-size="7.6" text-anchor="end" fill="#111">10</text>
<line x1="291.9" y1="228.12" x2="293.7" y2="228.12" stroke="#3c3c3c" stroke-width="0.7"/>
<text x="291.1" y="230.86" font-size="7.6" text-anchor="end" fill="#111">20</text>
<line x1="291.9" y1="217.79" x2="293.7" y2="217.79" stroke="#3c3c3c" stroke-width="0.7"/>
<text x="291.1" y="220.52" font-size="7.6" text-anchor="end" fill="#111">30</text>
<line x1="291.9" y1="207.45" x2="293.7" y2="207.45" stroke="#3c3c3c" stroke-width="0.7"/>
<text x="291.1" y="210.19" font-size="7.6" text-anchor="end" fill="#111">40</text>
<line x1="291.9" y1="197.11" x2="293.7" y2="197.11" stroke="#3c3c3c" stroke-width="0.7"/>
<text x="291.1" y="199.85" font-size="7.6" text-anchor="end" fill="#111">50</text>
<line x1="291.9" y1="186.78" x2="293.7" y2="186.78" stroke="#3c3c3c" stroke-width="0.7"/>
<text x="291.1" y="189.51" font-size="7.6" text-anchor="end" fill="#111">60</text>
<line x1="291.9" y1="176.44" x2="293.7" y2="176.44" stroke="#3c3c3c" stroke-width="0.7"/>
<text x="291.1" y="179.17" font-size="7.6" text-anchor="end" fill="#111">70</text>
<line x1="291.9" y1="166.1" x2="293.7" y2="166.1" stroke="#3c3c3c" stroke-width="0.7"/>
<text x="291.1" y="168.84" font-size="7.6" text-anchor="end" fill="#111">80</text>
<line x1="293.7" y1="254.4" x2="405.3" y2="254.4" stroke="#3c3c3c" stroke-width="0.8"/>
<line x1="308" y1="254.4" x2="308" y2="256.4" stroke="#3c3c3c" stroke-width="0.7"/>
<line x1="335.4" y1="254.4" x2="335.4" y2="256.4" stroke="#3c3c3c" stroke-width="0.7"/>
<line x1="363.1" y1="254.4" x2="363.1" y2="256.4" stroke="#3c3c3c" stroke-width="0.7"/>
<line x1="390.9" y1="254.4" x2="390.9" y2="256.4" stroke="#3c3c3c" stroke-width="0.7"/>
<path d="M308 246.9 L335.4 247.7 L363.1 245.8 L390.9 245.5" stroke="#cc2030" stroke-width="1.3" fill="none" stroke-linejoin="round"/>
<line x1="308" y1="244.6" x2="308" y2="248.6" stroke="#b01828" stroke-width="0.9"/>
<line x1="306.4" y1="244.6" x2="309.6" y2="244.6" stroke="#b01828" stroke-width="0.9"/>
<line x1="306.4" y1="248.6" x2="309.6" y2="248.6" stroke="#b01828" stroke-width="0.9"/>
<rect x="306.9" y="245.8" width="2.2" height="2.2" fill="#b01828"/>
<line x1="335.4" y1="245.6" x2="335.4" y2="249.2" stroke="#b01828" stroke-width="0.9"/>
<line x1="333.8" y1="245.6" x2="337" y2="245.6" stroke="#b01828" stroke-width="0.9"/>
<line x1="333.8" y1="249.2" x2="337" y2="249.2" stroke="#b01828" stroke-width="0.9"/>
<rect x="334.3" y="246.6" width="2.2" height="2.2" fill="#b01828"/>
<line x1="363.1" y1="243.6" x2="363.1" y2="248" stroke="#b01828" stroke-width="0.9"/>
<line x1="361.5" y1="243.6" x2="364.7" y2="243.6" stroke="#b01828" stroke-width="0.9"/>
<line x1="361.5" y1="248" x2="364.7" y2="248" stroke="#b01828" stroke-width="0.9"/>
<rect x="362" y="244.7" width="2.2" height="2.2" fill="#b01828"/>
<line x1="390.9" y1="243" x2="390.9" y2="248" stroke="#b01828" stroke-width="0.9"/>
<line x1="389.3" y1="243" x2="392.5" y2="243" stroke="#b01828" stroke-width="0.9"/>
<line x1="389.3" y1="248" x2="392.5" y2="248" stroke="#b01828" stroke-width="0.9"/>
<rect x="389.8" y="244.4" width="2.2" height="2.2" fill="#b01828"/>
<path d="M308 210.8 L335.4 193.8 L363.1 189.8 L390.9 181.2" stroke="#2222b4" stroke-width="1.3" fill="none" stroke-linejoin="round"/>
<line x1="308" y1="205.4" x2="308" y2="216" stroke="#1a1a98" stroke-width="0.9"/>
<line x1="306" y1="205.4" x2="310" y2="205.4" stroke="#1a1a98" stroke-width="0.9"/>
<line x1="306" y1="216" x2="310" y2="216" stroke="#1a1a98" stroke-width="0.9"/>
<rect x="306.7" y="209.5" width="2.6" height="2.6" fill="#1a1a98"/>
<line x1="335.4" y1="186.6" x2="335.4" y2="201.4" stroke="#1a1a98" stroke-width="0.9"/>
<line x1="333.4" y1="186.6" x2="337.4" y2="186.6" stroke="#1a1a98" stroke-width="0.9"/>
<line x1="333.4" y1="201.4" x2="337.4" y2="201.4" stroke="#1a1a98" stroke-width="0.9"/>
<rect x="334.1" y="192.5" width="2.6" height="2.6" fill="#1a1a98"/>
<line x1="363.1" y1="181" x2="363.1" y2="199.2" stroke="#1a1a98" stroke-width="0.9"/>
<line x1="361.1" y1="181" x2="365.1" y2="181" stroke="#1a1a98" stroke-width="0.9"/>
<line x1="361.1" y1="199.2" x2="365.1" y2="199.2" stroke="#1a1a98" stroke-width="0.9"/>
<rect x="361.8" y="188.5" width="2.6" height="2.6" fill="#1a1a98"/>
<line x1="390.9" y1="172.3" x2="390.9" y2="189.8" stroke="#1a1a98" stroke-width="0.9"/>
<line x1="388.9" y1="172.3" x2="392.9" y2="172.3" stroke="#1a1a98" stroke-width="0.9"/>
<line x1="388.9" y1="189.8" x2="392.9" y2="189.8" stroke="#1a1a98" stroke-width="0.9"/>
<rect x="389.6" y="179.9" width="2.6" height="2.6" fill="#1a1a98"/>
<path d="M308 240 L308 237.06 M308 240 L310.8 239.09 M308 240 L309.73 242.38 M308 240 L306.27 242.38 M308 240 L305.2 239.09" stroke="#111" stroke-width="1.55" stroke-linecap="round" fill="none"/>
<path d="M335.4 240 L335.4 237.06 M335.4 240 L338.2 239.09 M335.4 240 L337.13 242.38 M335.4 240 L333.67 242.38 M335.4 240 L332.6 239.09" stroke="#111" stroke-width="1.55" stroke-linecap="round" fill="none"/>
<path d="M363.1 240 L363.1 237.06 M363.1 240 L365.9 239.09 M363.1 240 L364.83 242.38 M363.1 240 L361.37 242.38 M363.1 240 L360.3 239.09" stroke="#111" stroke-width="1.55" stroke-linecap="round" fill="none"/>
<path d="M390.9 240 L390.9 237.06 M390.9 240 L393.7 239.09 M390.9 240 L392.63 242.38 M390.9 240 L389.17 242.38 M390.9 240 L388.1 239.09" stroke="#111" stroke-width="1.55" stroke-linecap="round" fill="none"/>
<text x="349" y="188.9" font-size="7.9" text-anchor="middle" fill="#1a1a1a">WT</text>
<text x="349.4" y="239.6" font-size="7.9" text-anchor="middle" fill="#1a1a1a">KO</text>
<text x="309" y="264" font-size="7.6" text-anchor="middle" fill="#1a1a1a">1mo</text>
<text x="336.4" y="264" font-size="7.6" text-anchor="middle" fill="#1a1a1a">2mo</text>
<text x="364.1" y="264" font-size="7.6" text-anchor="middle" fill="#1a1a1a">3mo</text>
<text x="391.9" y="264" font-size="7.6" text-anchor="middle" fill="#1a1a1a">4mo</text>
<text x="276.8" y="206.7" font-size="9.3" text-anchor="middle" fill="#1a1a1a" transform="rotate(-90 276.8 206.7)">% Chimerism</text>
<text x="437.6" y="157" font-size="16" font-weight="bold" fill="#000">F</text>
<line x1="464.2" y1="244.58" x2="499" y2="244.58" stroke="#d4d4d4" stroke-width="0.7"/>
<line x1="464.2" y1="234.85" x2="499" y2="234.85" stroke="#d4d4d4" stroke-width="0.7"/>
<line x1="464.2" y1="225.12" x2="499" y2="225.12" stroke="#d4d4d4" stroke-width="0.7"/>
<line x1="464.2" y1="215.4" x2="499" y2="215.4" stroke="#d4d4d4" stroke-width="0.7"/>
<line x1="464.2" y1="205.68" x2="499" y2="205.68" stroke="#d4d4d4" stroke-width="0.7"/>
<line x1="464.2" y1="195.95" x2="499" y2="195.95" stroke="#d4d4d4" stroke-width="0.7"/>
<line x1="464.2" y1="186.23" x2="499" y2="186.23" stroke="#d4d4d4" stroke-width="0.7"/>
<line x1="464.2" y1="176.5" x2="499" y2="176.5" stroke="#d4d4d4" stroke-width="0.7"/>
<line x1="464.2" y1="165.5" x2="464.2" y2="254.3" stroke="#3c3c3c" stroke-width="0.8"/>
<line x1="462.4" y1="254.3" x2="464.2" y2="254.3" stroke="#3c3c3c" stroke-width="0.7"/>
<text x="461.6" y="257.11" font-size="7.8" text-anchor="end" fill="#111">0</text>
<line x1="462.4" y1="244.58" x2="464.2" y2="244.58" stroke="#3c3c3c" stroke-width="0.7"/>
<text x="461.6" y="247.38" font-size="7.8" text-anchor="end" fill="#111">10</text>
<line x1="462.4" y1="234.85" x2="464.2" y2="234.85" stroke="#3c3c3c" stroke-width="0.7"/>
<text x="461.6" y="237.66" font-size="7.8" text-anchor="end" fill="#111">20</text>
<line x1="462.4" y1="225.12" x2="464.2" y2="225.12" stroke="#3c3c3c" stroke-width="0.7"/>
<text x="461.6" y="227.93" font-size="7.8" text-anchor="end" fill="#111">30</text>
<line x1="462.4" y1="215.4" x2="464.2" y2="215.4" stroke="#3c3c3c" stroke-width="0.7"/>
<text x="461.6" y="218.21" font-size="7.8" text-anchor="end" fill="#111">40</text>
<line x1="462.4" y1="205.68" x2="464.2" y2="205.68" stroke="#3c3c3c" stroke-width="0.7"/>
<text x="461.6" y="208.48" font-size="7.8" text-anchor="end" fill="#111">50</text>
<line x1="462.4" y1="195.95" x2="464.2" y2="195.95" stroke="#3c3c3c" stroke-width="0.7"/>
<text x="461.6" y="198.76" font-size="7.8" text-anchor="end" fill="#111">60</text>
<line x1="462.4" y1="186.23" x2="464.2" y2="186.23" stroke="#3c3c3c" stroke-width="0.7"/>
<text x="461.6" y="189.03" font-size="7.8" text-anchor="end" fill="#111">70</text>
<line x1="462.4" y1="176.5" x2="464.2" y2="176.5" stroke="#3c3c3c" stroke-width="0.7"/>
<text x="461.6" y="179.31" font-size="7.8" text-anchor="end" fill="#111">80</text>
<line x1="462.4" y1="166.78" x2="464.2" y2="166.78" stroke="#3c3c3c" stroke-width="0.7"/>
<text x="461.6" y="169.58" font-size="7.8" text-anchor="end" fill="#111">90</text>
<line x1="464.2" y1="254.3" x2="498" y2="254.3" stroke="#3c3c3c" stroke-width="0.8"/>
<line x1="475.9" y1="181.7" x2="475.9" y2="174.2" stroke="#8a8a8a" stroke-width="0.6"/>
<line x1="473.9" y1="174.2" x2="477.9" y2="174.2" stroke="#8a8a8a" stroke-width="0.6"/>
<line x1="490" y1="249.8" x2="490" y2="246.5" stroke="#8a8a8a" stroke-width="0.6"/>
<line x1="488" y1="246.5" x2="492" y2="246.5" stroke="#8a8a8a" stroke-width="0.6"/>
<rect x="469" y="181.7" width="13.9" height="72.6" fill="#0a0ae6" stroke="#0000a8" stroke-width="0.6"/>
<rect x="482.9" y="249.8" width="14.2" height="4.5" fill="#d40c0c" stroke="#a00000" stroke-width="0.6"/>
<text x="475.4" y="170.9" font-size="5.6" text-anchor="middle" fill="#333">WT</text>
<text x="489.9" y="234.6" font-size="5.6" text-anchor="middle" fill="#333">KO</text>
<path d="M490.1 242.1 L490.1 239.34 M490.1 242.1 L492.72 241.25 M490.1 242.1 L491.72 244.33 M490.1 242.1 L488.48 244.33 M490.1 242.1 L487.48 241.25" stroke="#111" stroke-width="1.55" stroke-linecap="round" fill="none"/>
<text x="483.1" y="263.6" font-size="9.4" text-anchor="middle" fill="#222">4mo</text>
<text x="447.3" y="213.8" font-size="10" text-anchor="middle" fill="#222" transform="rotate(-90 447.3 213.8)">% BM chimerism</text>
<text x="0.4" y="304" font-size="16" font-weight="bold" fill="#000">G</text>
<line x1="42.8" y1="385.6" x2="162.9" y2="385.6" stroke="#d4d4d4" stroke-width="0.7"/>
<line x1="42.8" y1="371.18" x2="162.9" y2="371.18" stroke="#d4d4d4" stroke-width="0.7"/>
<line x1="42.8" y1="356.77" x2="162.9" y2="356.77" stroke="#d4d4d4" stroke-width="0.7"/>
<line x1="42.8" y1="342.35" x2="162.9" y2="342.35" stroke="#d4d4d4" stroke-width="0.7"/>
<line x1="42.8" y1="327.93" x2="162.9" y2="327.93" stroke="#d4d4d4" stroke-width="0.7"/>
<line x1="42.8" y1="313.52" x2="162.9" y2="313.52" stroke="#d4d4d4" stroke-width="0.7"/>
<line x1="42.8" y1="298.5" x2="42.8" y2="392.5" stroke="#3c3c3c" stroke-width="0.8"/>
<line x1="41" y1="385.6" x2="42.8" y2="385.6" stroke="#3c3c3c" stroke-width="0.7"/>
<text x="40.2" y="388.7" font-size="8.6" text-anchor="end" fill="#111">0</text>
<line x1="41" y1="371.18" x2="42.8" y2="371.18" stroke="#3c3c3c" stroke-width="0.7"/>
<text x="40.2" y="374.28" font-size="8.6" text-anchor="end" fill="#111">10</text>
<line x1="41" y1="356.77" x2="42.8" y2="356.77" stroke="#3c3c3c" stroke-width="0.7"/>
<text x="40.2" y="359.86" font-size="8.6" text-anchor="end" fill="#111">20</text>
<line x1="41" y1="342.35" x2="42.8" y2="342.35" stroke="#3c3c3c" stroke-width="0.7"/>
<text x="40.2" y="345.45" font-size="8.6" text-anchor="end" fill="#111">30</text>
<line x1="41" y1="327.93" x2="42.8" y2="327.93" stroke="#3c3c3c" stroke-width="0.7"/>
<text x="40.2" y="331.03" font-size="8.6" text-anchor="end" fill="#111">40</text>
<line x1="41" y1="313.52" x2="42.8" y2="313.52" stroke="#3c3c3c" stroke-width="0.7"/>
<text x="40.2" y="316.61" font-size="8.6" text-anchor="end" fill="#111">50</text>
<line x1="41" y1="299.1" x2="42.8" y2="299.1" stroke="#3c3c3c" stroke-width="0.7"/>
<text x="40.2" y="302.2" font-size="8.6" text-anchor="end" fill="#111">60</text>
<line x1="42.8" y1="392.5" x2="162.9" y2="392.5" stroke="#3c3c3c" stroke-width="0.8"/>
<line x1="58.2" y1="392.5" x2="58.2" y2="394.5" stroke="#3c3c3c" stroke-width="0.7"/>
<line x1="87.6" y1="392.5" x2="87.6" y2="394.5" stroke="#3c3c3c" stroke-width="0.7"/>
<line x1="117" y1="392.5" x2="117" y2="394.5" stroke="#3c3c3c" stroke-width="0.7"/>
<line x1="147.1" y1="392.5" x2="147.1" y2="394.5" stroke="#3c3c3c" stroke-width="0.7"/>
<path d="M58.2 383.8 L87.6 384.5 L117 383.1 L147.1 381.4" stroke="#d41c1c" stroke-width="1.3" fill="none" stroke-linejoin="round"/>
<line x1="58.2" y1="381" x2="58.2" y2="386.6" stroke="#d41c1c" stroke-width="0.8"/>
<line x1="56.5" y1="381" x2="59.9" y2="381" stroke="#d41c1c" stroke-width="0.8"/>
<line x1="56.5" y1="386.6" x2="59.9" y2="386.6" stroke="#d41c1c" stroke-width="0.8"/>
<rect x="56.9" y="382.5" width="2.6" height="2.6" fill="#d41c1c"/>
<line x1="87.6" y1="382" x2="87.6" y2="387" stroke="#d41c1c" stroke-width="0.8"/>
<line x1="85.9" y1="382" x2="89.3" y2="382" stroke="#d41c1c" stroke-width="0.8"/>
<line x1="85.9" y1="387" x2="89.3" y2="387" stroke="#d41c1c" stroke-width="0.8"/>
<rect x="86.3" y="383.2" width="2.6" height="2.6" fill="#d41c1c"/>
<line x1="117" y1="380.5" x2="117" y2="385.7" stroke="#d41c1c" stroke-width="0.8"/>
<line x1="115.3" y1="380.5" x2="118.7" y2="380.5" stroke="#d41c1c" stroke-width="0.8"/>
<line x1="115.3" y1="385.7" x2="118.7" y2="385.7" stroke="#d41c1c" stroke-width="0.8"/>
<rect x="115.7" y="381.8" width="2.6" height="2.6" fill="#d41c1c"/>
<line x1="147.1" y1="377.5" x2="147.1" y2="385.3" stroke="#d41c1c" stroke-width="0.8"/>
<line x1="145.4" y1="377.5" x2="148.8" y2="377.5" stroke="#d41c1c" stroke-width="0.8"/>
<line x1="145.4" y1="385.3" x2="148.8" y2="385.3" stroke="#d41c1c" stroke-width="0.8"/>
<rect x="145.8" y="380.1" width="2.6" height="2.6" fill="#d41c1c"/>
<path d="M58.2 326.3 L87.6 325.3 L117 332.6 L147.1 333.6" stroke="#2222b4" stroke-width="1.4" fill="none" stroke-linejoin="round"/>
<line x1="58.2" y1="317.4" x2="58.2" y2="335.2" stroke="#1a1a98" stroke-width="0.9"/>
<line x1="55.9" y1="317.4" x2="60.5" y2="317.4" stroke="#1a1a98" stroke-width="0.9"/>
<line x1="55.9" y1="335.2" x2="60.5" y2="335.2" stroke="#1a1a98" stroke-width="0.9"/>
<rect x="56.8" y="324.9" width="2.8" height="2.8" fill="#1a1a98"/>
<line x1="87.6" y1="314.6" x2="87.6" y2="336" stroke="#1a1a98" stroke-width="0.9"/>
<line x1="85.3" y1="314.6" x2="89.9" y2="314.6" stroke="#1a1a98" stroke-width="0.9"/>
<line x1="85.3" y1="336" x2="89.9" y2="336" stroke="#1a1a98" stroke-width="0.9"/>
<rect x="86.2" y="323.9" width="2.8" height="2.8" fill="#1a1a98"/>
<line x1="117" y1="323.3" x2="117" y2="342.3" stroke="#1a1a98" stroke-width="0.9"/>
<line x1="114.7" y1="323.3" x2="119.3" y2="323.3" stroke="#1a1a98" stroke-width="0.9"/>
<line x1="114.7" y1="342.3" x2="119.3" y2="342.3" stroke="#1a1a98" stroke-width="0.9"/>
<rect x="115.6" y="331.2" width="2.8" height="2.8" fill="#1a1a98"/>
<line x1="147.1" y1="325" x2="147.1" y2="342.3" stroke="#1a1a98" stroke-width="0.9"/>
<line x1="144.8" y1="325" x2="149.4" y2="325" stroke="#1a1a98" stroke-width="0.9"/>
<line x1="144.8" y1="342.3" x2="149.4" y2="342.3" stroke="#1a1a98" stroke-width="0.9"/>
<rect x="145.7" y="332.2" width="2.8" height="2.8" fill="#1a1a98"/>
<path d="M58.2 377.8 L58.2 374.95 M58.2 377.8 L60.91 376.92 M58.2 377.8 L59.88 380.11 M58.2 377.8 L56.52 380.11 M58.2 377.8 L55.49 376.92" stroke="#111" stroke-width="1.55" stroke-linecap="round" fill="none"/>
<path d="M87.6 377.8 L87.6 374.95 M87.6 377.8 L90.31 376.92 M87.6 377.8 L89.28 380.11 M87.6 377.8 L85.92 380.11 M87.6 377.8 L84.89 376.92" stroke="#111" stroke-width="1.55" stroke-linecap="round" fill="none"/>
<path d="M117 377.8 L117 374.95 M117 377.8 L119.71 376.92 M117 377.8 L118.68 380.11 M117 377.8 L115.32 380.11 M117 377.8 L114.29 376.92" stroke="#111" stroke-width="1.55" stroke-linecap="round" fill="none"/>
<path d="M147.1 372.2 L147.1 369.35 M147.1 372.2 L149.81 371.32 M147.1 372.2 L148.78 374.51 M147.1 372.2 L145.42 374.51 M147.1 372.2 L144.39 371.32" stroke="#111" stroke-width="1.55" stroke-linecap="round" fill="none"/>
<text x="102.6" y="324.3" font-size="9" text-anchor="middle" fill="#222">WT</text>
<text x="102.5" y="378.6" font-size="9" text-anchor="middle" fill="#222">KO</text>
<text x="58.9" y="403.7" font-size="8.9" text-anchor="middle" fill="#222">1mo</text>
<text x="88.3" y="403.7" font-size="8.9" text-anchor="middle" fill="#222">2mo</text>
<text x="117.7" y="403.7" font-size="8.9" text-anchor="middle" fill="#222">3mo</text>
<text x="147.8" y="403.7" font-size="8.9" text-anchor="middle" fill="#222">4mo</text>
<text x="26.2" y="345.2" font-size="10" text-anchor="middle" fill="#222" transform="rotate(-90 26.2 345.2)">% Chimerism</text>
<text x="175.9" y="304" font-size="16" font-weight="bold" fill="#000">H</text>
<line x1="222.9" y1="381.36" x2="340" y2="381.36" stroke="#d4d4d4" stroke-width="0.7"/>
<line x1="222.9" y1="365.82" x2="340" y2="365.82" stroke="#d4d4d4" stroke-width="0.7"/>
<line x1="222.9" y1="350.28" x2="340" y2="350.28" stroke="#d4d4d4" stroke-width="0.7"/>
<line x1="222.9" y1="334.74" x2="340" y2="334.74" stroke="#d4d4d4" stroke-width="0.7"/>
<line x1="222.9" y1="319.2" x2="340" y2="319.2" stroke="#d4d4d4" stroke-width="0.7"/>
<line x1="222.9" y1="302.5" x2="222.9" y2="396.9" stroke="#3c3c3c" stroke-width="0.8"/>
<line x1="221.1" y1="396.9" x2="222.9" y2="396.9" stroke="#3c3c3c" stroke-width="0.7"/>
<text x="220.3" y="399.92" font-size="8.4" text-anchor="end" fill="#111">0</text>
<line x1="221.1" y1="381.36" x2="222.9" y2="381.36" stroke="#3c3c3c" stroke-width="0.7"/>
<text x="220.3" y="384.38" font-size="8.4" text-anchor="end" fill="#111">10</text>
<line x1="221.1" y1="365.82" x2="222.9" y2="365.82" stroke="#3c3c3c" stroke-width="0.7"/>
<text x="220.3" y="368.84" font-size="8.4" text-anchor="end" fill="#111">20</text>
<line x1="221.1" y1="350.28" x2="222.9" y2="350.28" stroke="#3c3c3c" stroke-width="0.7"/>
<text x="220.3" y="353.3" font-size="8.4" text-anchor="end" fill="#111">30</text>
<line x1="221.1" y1="334.74" x2="222.9" y2="334.74" stroke="#3c3c3c" stroke-width="0.7"/>
<text x="220.3" y="337.76" font-size="8.4" text-anchor="end" fill="#111">40</text>
<line x1="221.1" y1="319.2" x2="222.9" y2="319.2" stroke="#3c3c3c" stroke-width="0.7"/>
<text x="220.3" y="322.22" font-size="8.4" text-anchor="end" fill="#111">50</text>
<line x1="221.1" y1="303.66" x2="222.9" y2="303.66" stroke="#3c3c3c" stroke-width="0.7"/>
<text x="220.3" y="306.68" font-size="8.4" text-anchor="end" fill="#111">60</text>
<line x1="222.9" y1="396.9" x2="340" y2="396.9" stroke="#3c3c3c" stroke-width="0.8"/>
<line x1="237.6" y1="396.9" x2="237.6" y2="398.9" stroke="#3c3c3c" stroke-width="0.7"/>
<line x1="266.8" y1="396.9" x2="266.8" y2="398.9" stroke="#3c3c3c" stroke-width="0.7"/>
<line x1="296" y1="396.9" x2="296" y2="398.9" stroke="#3c3c3c" stroke-width="0.7"/>
<line x1="325.3" y1="396.9" x2="325.3" y2="398.9" stroke="#3c3c3c" stroke-width="0.7"/>
<path d="M237.6 330.8 L266.8 371.3 L296 383 L325.3 387" stroke="#c81c28" stroke-width="1.1" fill="none" stroke-linejoin="round"/>
<line x1="237.6" y1="312.3" x2="237.6" y2="349.4" stroke="#c81c28" stroke-width="0.9"/>
<line x1="235.3" y1="312.3" x2="239.9" y2="312.3" stroke="#c81c28" stroke-width="0.9"/>
<line x1="235.3" y1="349.4" x2="239.9" y2="349.4" stroke="#c81c28" stroke-width="0.9"/>
<circle cx="237.6" cy="330.8" r="2.9" fill="#c81c28"/>
<line x1="266.8" y1="365" x2="266.8" y2="378" stroke="#c81c28" stroke-width="0.9"/>
<line x1="264.5" y1="365" x2="269.1" y2="365" stroke="#c81c28" stroke-width="0.9"/>
<line x1="264.5" y1="378" x2="269.1" y2="378" stroke="#c81c28" stroke-width="0.9"/>
<circle cx="266.8" cy="371.3" r="2.9" fill="#c81c28"/>
<line x1="296" y1="382" x2="296" y2="384" stroke="#c81c28" stroke-width="0.9"/>
<line x1="293.7" y1="382" x2="298.3" y2="382" stroke="#c81c28" stroke-width="0.9"/>
<line x1="293.7" y1="384" x2="298.3" y2="384" stroke="#c81c28" stroke-width="0.9"/>
<circle cx="296" cy="383" r="2.9" fill="#c81c28"/>
<line x1="325.3" y1="386" x2="325.3" y2="388" stroke="#c81c28" stroke-width="0.9"/>
<line x1="323" y1="386" x2="327.6" y2="386" stroke="#c81c28" stroke-width="0.9"/>
<line x1="323" y1="388" x2="327.6" y2="388" stroke="#c81c28" stroke-width="0.9"/>
<circle cx="325.3" cy="387" r="2.9" fill="#c81c28"/>
<path d="M237.6 326.3 L266.8 326.4 L296 331.2 L325.3 331.2" stroke="#2222b4" stroke-width="1.5" fill="none" stroke-linejoin="round"/>
<line x1="237.6" y1="315.7" x2="237.6" y2="340" stroke="#1a1a98" stroke-width="0.9"/>
<line x1="235.3" y1="315.7" x2="239.9" y2="315.7" stroke="#1a1a98" stroke-width="0.9"/>
<line x1="235.3" y1="340" x2="239.9" y2="340" stroke="#1a1a98" stroke-width="0.9"/>
<rect x="235.3" y="324" width="4.6" height="4.6" fill="#1a1a98"/>
<line x1="266.8" y1="315.4" x2="266.8" y2="337.7" stroke="#1a1a98" stroke-width="0.9"/>
<line x1="264.5" y1="315.4" x2="269.1" y2="315.4" stroke="#1a1a98" stroke-width="0.9"/>
<line x1="264.5" y1="337.7" x2="269.1" y2="337.7" stroke="#1a1a98" stroke-width="0.9"/>
<rect x="264.5" y="324.1" width="4.6" height="4.6" fill="#1a1a98"/>
<line x1="296" y1="317.3" x2="296" y2="345" stroke="#1a1a98" stroke-width="0.9"/>
<line x1="293.7" y1="317.3" x2="298.3" y2="317.3" stroke="#1a1a98" stroke-width="0.9"/>
<line x1="293.7" y1="345" x2="298.3" y2="345" stroke="#1a1a98" stroke-width="0.9"/>
<rect x="293.7" y="328.9" width="4.6" height="4.6" fill="#1a1a98"/>
<line x1="325.3" y1="312" x2="325.3" y2="349.4" stroke="#1a1a98" stroke-width="0.9"/>
<line x1="323" y1="312" x2="327.6" y2="312" stroke="#1a1a98" stroke-width="0.9"/>
<line x1="323" y1="349.4" x2="327.6" y2="349.4" stroke="#1a1a98" stroke-width="0.9"/>
<rect x="323" y="328.9" width="4.6" height="4.6" fill="#1a1a98"/>
<path d="M266.8 361 L266.8 357.96 M266.8 361 L269.69 360.06 M266.8 361 L268.58 363.46 M266.8 361 L265.02 363.46 M266.8 361 L263.91 360.06" stroke="#111" stroke-width="1.55" stroke-linecap="round" fill="none"/>
<path d="M296 375.7 L296 372.66 M296 375.7 L298.89 374.76 M296 375.7 L297.78 378.16 M296 375.7 L294.22 378.16 M296 375.7 L293.11 374.76" stroke="#111" stroke-width="1.55" stroke-linecap="round" fill="none"/>
<path d="M325.3 379.4 L325.3 376.36 M325.3 379.4 L328.19 378.46 M325.3 379.4 L327.08 381.86 M325.3 379.4 L323.52 381.86 M325.3 379.4 L322.41 378.46" stroke="#111" stroke-width="1.55" stroke-linecap="round" fill="none"/>
<text x="283.3" y="326.8" font-size="9.4" text-anchor="middle" fill="#222">WT</text>
<text x="283.6" y="374.3" font-size="9.4" text-anchor="middle" fill="#222">KO</text>
<text x="238.4" y="407.5" font-size="8.5" text-anchor="middle" fill="#222">1mo</text>
<text x="267.6" y="407.5" font-size="8.5" text-anchor="middle" fill="#222">2mo</text>
<text x="296.8" y="407.5" font-size="8.5" text-anchor="middle" fill="#222">3mo</text>
<text x="326.1" y="407.5" font-size="8.5" text-anchor="middle" fill="#222">4mo</text>
<text x="206.5" y="350" font-size="9.8" text-anchor="middle" fill="#222" transform="rotate(-90 206.5 350)">% PB chimerism (GFP+)</text>
<text x="359.8" y="303.8" font-size="16" font-weight="bold" fill="#000">I</text>
<line x1="398.6" y1="383.91" x2="439.4" y2="383.91" stroke="#d4d4d4" stroke-width="0.7"/>
<line x1="398.6" y1="371.52" x2="439.4" y2="371.52" stroke="#d4d4d4" stroke-width="0.7"/>
<line x1="398.6" y1="359.14" x2="439.4" y2="359.14" stroke="#d4d4d4" stroke-width="0.7"/>
<line x1="398.6" y1="346.75" x2="439.4" y2="346.75" stroke="#d4d4d4" stroke-width="0.7"/>
<line x1="398.6" y1="334.36" x2="439.4" y2="334.36" stroke="#d4d4d4" stroke-width="0.7"/>
<line x1="398.6" y1="321.98" x2="439.4" y2="321.98" stroke="#d4d4d4" stroke-width="0.7"/>
<line x1="398.6" y1="309.59" x2="439.4" y2="309.59" stroke="#d4d4d4" stroke-width="0.7"/>
<line x1="398.6" y1="296" x2="398.6" y2="396.3" stroke="#3c3c3c" stroke-width="0.8"/>
<line x1="396.8" y1="396.3" x2="398.6" y2="396.3" stroke="#3c3c3c" stroke-width="0.7"/>
<text x="396" y="399.54" font-size="9" text-anchor="end" fill="#111">0</text>
<line x1="396.8" y1="383.91" x2="398.6" y2="383.91" stroke="#3c3c3c" stroke-width="0.7"/>
<text x="396" y="387.15" font-size="9" text-anchor="end" fill="#111">10</text>
<line x1="396.8" y1="371.52" x2="398.6" y2="371.52" stroke="#3c3c3c" stroke-width="0.7"/>
<text x="396" y="374.76" font-size="9" text-anchor="end" fill="#111">20</text>
<line x1="396.8" y1="359.14" x2="398.6" y2="359.14" stroke="#3c3c3c" stroke-width="0.7"/>
<text x="396" y="362.38" font-size="9" text-anchor="end" fill="#111">30</text>
<line x1="396.8" y1="346.75" x2="398.6" y2="346.75" stroke="#3c3c3c" stroke-width="0.7"/>
<text x="396" y="349.99" font-size="9" text-anchor="end" fill="#111">40</text>
<line x1="396.8" y1="334.36" x2="398.6" y2="334.36" stroke="#3c3c3c" stroke-width="0.7"/>
<text x="396" y="337.6" font-size="9" text-anchor="end" fill="#111">50</text>
<line x1="396.8" y1="321.98" x2="398.6" y2="321.98" stroke="#3c3c3c" stroke-width="0.7"/>
<text x="396" y="325.22" font-size="9" text-anchor="end" fill="#111">60</text>
<line x1="396.8" y1="309.59" x2="398.6" y2="309.59" stroke="#3c3c3c" stroke-width="0.7"/>
<text x="396" y="312.83" font-size="9" text-anchor="end" fill="#111">70</text>
<line x1="396.8" y1="297.2" x2="398.6" y2="297.2" stroke="#3c3c3c" stroke-width="0.7"/>
<text x="396" y="300.44" font-size="9" text-anchor="end" fill="#111">80</text>
<line x1="398.6" y1="396.3" x2="438" y2="396.3" stroke="#3c3c3c" stroke-width="0.8"/>
<line x1="412.9" y1="319" x2="412.9" y2="301" stroke="#8a8a8a" stroke-width="0.6"/>
<line x1="410.9" y1="301" x2="414.9" y2="301" stroke="#8a8a8a" stroke-width="0.6"/>
<line x1="428.5" y1="390.1" x2="428.5" y2="386" stroke="#8a8a8a" stroke-width="0.6"/>
<line x1="426.5" y1="386" x2="430.5" y2="386" stroke="#8a8a8a" stroke-width="0.6"/>
<rect x="404.8" y="319" width="15.8" height="77.3" fill="#0a0ae6" stroke="#0000a8" stroke-width="0.6"/>
<rect x="420.6" y="390.1" width="15.7" height="6.2" fill="#d40c0c" stroke="#a00000" stroke-width="0.6"/>
<text x="411.3" y="299.1" font-size="6.6" text-anchor="middle" fill="#222">WT</text>
<text x="428.5" y="374.9" font-size="6.8" text-anchor="middle" fill="#222">KO</text>
<path d="M428.2 381.6 L428.2 378.66 M428.2 381.6 L431 380.69 M428.2 381.6 L429.93 383.98 M428.2 381.6 L426.47 383.98 M428.2 381.6 L425.4 380.69" stroke="#111" stroke-width="1.55" stroke-linecap="round" fill="none"/>
<text x="420" y="406.8" font-size="9.5" text-anchor="middle" fill="#222">4mo</text>
<text x="381.4" y="346.2" font-size="9.7" text-anchor="middle" fill="#222" transform="rotate(-90 381.4 346.2)">% BM chimerism (GFP+)</text>
<text x="0.7" y="434" font-size="16" font-weight="bold" fill="#000">J</text>
<line x1="42.5" y1="432" x2="42.5" y2="523" stroke="#3c3c3c" stroke-width="0.8"/>
<line x1="40.7" y1="523" x2="42.5" y2="523" stroke="#3c3c3c" stroke-width="0.7"/>
<text x="39.9" y="525.38" font-size="6.6" text-anchor="end" fill="#111">0</text>
<line x1="40.7" y1="505.28" x2="42.5" y2="505.28" stroke="#3c3c3c" stroke-width="0.7"/>
<text x="39.9" y="507.66" font-size="6.6" text-anchor="end" fill="#111">20</text>
<line x1="40.7" y1="487.56" x2="42.5" y2="487.56" stroke="#3c3c3c" stroke-width="0.7"/>
<text x="39.9" y="489.94" font-size="6.6" text-anchor="end" fill="#111">40</text>
<line x1="40.7" y1="469.84" x2="42.5" y2="469.84" stroke="#3c3c3c" stroke-width="0.7"/>
<text x="39.9" y="472.22" font-size="6.6" text-anchor="end" fill="#111">60</text>
<line x1="40.7" y1="452.12" x2="42.5" y2="452.12" stroke="#3c3c3c" stroke-width="0.7"/>
<text x="39.9" y="454.5" font-size="6.6" text-anchor="end" fill="#111">80</text>
<line x1="40.7" y1="434.4" x2="42.5" y2="434.4" stroke="#3c3c3c" stroke-width="0.7"/>
<text x="39.9" y="436.78" font-size="6.6" text-anchor="end" fill="#111">100</text>
<line x1="42.5" y1="523" x2="140" y2="523" stroke="#3c3c3c" stroke-width="0.8"/>
<line x1="42.5" y1="523" x2="42.5" y2="525" stroke="#3c3c3c" stroke-width="0.7"/>
<text x="42.5" y="532.2" font-size="7.4" text-anchor="middle" fill="#222">0</text>
<line x1="61.8" y1="523" x2="61.8" y2="525" stroke="#3c3c3c" stroke-width="0.7"/>
<text x="61.8" y="532.2" font-size="7.4" text-anchor="middle" fill="#222">6</text>
<line x1="81" y1="523" x2="81" y2="525" stroke="#3c3c3c" stroke-width="0.7"/>
<text x="81" y="532.2" font-size="7.4" text-anchor="middle" fill="#222">12</text>
<line x1="100.4" y1="523" x2="100.4" y2="525" stroke="#3c3c3c" stroke-width="0.7"/>
<text x="100.4" y="532.2" font-size="7.4" text-anchor="middle" fill="#222">18</text>
<line x1="119.6" y1="523" x2="119.6" y2="525" stroke="#3c3c3c" stroke-width="0.7"/>
<text x="119.6" y="532.2" font-size="7.4" text-anchor="middle" fill="#222">24</text>
<line x1="139" y1="523" x2="139" y2="525" stroke="#3c3c3c" stroke-width="0.7"/>
<text x="139" y="532.2" font-size="7.4" text-anchor="middle" fill="#222">30</text>
<path d="M42.5 434.4 L139 434.4" stroke="#2c2cb8" stroke-width="1.3" fill="none"/>
<path d="M42.5 434.4 L81.1 434.4 L81.1 456.55 L84.32 456.55 L84.32 467.62 L87.53 467.62 L87.53 478.7 L119.7 478.7 L119.7 489.77 L139 489.77" stroke="#b83040" stroke-width="1.45" fill="none"/>
<path d="M42.5 434.4 L81.3 434.4" stroke="#701838" stroke-width="1.5" fill="none"/>
<path d="M39.3 425.9 L48.3 425.9 L43.8 432.4 Z" stroke="#000" stroke-width="0.1" fill="#000"/>
<path d="M134.9 484.6 L134.9 481.84 M134.9 484.6 L137.52 483.75 M134.9 484.6 L136.52 486.83 M134.9 484.6 L133.28 486.83 M134.9 484.6 L132.28 483.75" stroke="#111" stroke-width="1.55" stroke-linecap="round" fill="none"/>
<line x1="47.9" y1="506.9" x2="66.6" y2="506.9" stroke="#2626b4" stroke-width="1.5"/>
<line x1="47.9" y1="517.1" x2="66.6" y2="517.1" stroke="#b83040" stroke-width="1.5"/>
<text x="68.4" y="510.1" font-size="8" fill="#1a1a1a">WT</text>
<text x="68.4" y="519.7" font-size="8" fill="#1a1a1a">KO</text>
<text x="93" y="544" font-size="11.4" text-anchor="middle" fill="#1a1a1a">Days</text>
<text x="24" y="477.7" font-size="11" text-anchor="middle" fill="#1a1a1a" transform="rotate(-90 24 477.7)">Survival (%)</text>
<text x="170.3" y="434" font-size="16" font-weight="bold" fill="#000">K</text>
<line x1="219.8" y1="509.4" x2="284.2" y2="509.4" stroke="#d4d4d4" stroke-width="0.7"/>
<line x1="219.8" y1="495.7" x2="284.2" y2="495.7" stroke="#d4d4d4" stroke-width="0.7"/>
<line x1="219.8" y1="482" x2="284.2" y2="482" stroke="#d4d4d4" stroke-width="0.7"/>
<line x1="219.8" y1="468.3" x2="284.2" y2="468.3" stroke="#d4d4d4" stroke-width="0.7"/>
<line x1="219.8" y1="454.6" x2="284.2" y2="454.6" stroke="#d4d4d4" stroke-width="0.7"/>
<line x1="219.8" y1="440.9" x2="284.2" y2="440.9" stroke="#d4d4d4" stroke-width="0.7"/>
<line x1="219.8" y1="426" x2="219.8" y2="523.1" stroke="#3c3c3c" stroke-width="0.8"/>
<line x1="218" y1="523.1" x2="219.8" y2="523.1" stroke="#3c3c3c" stroke-width="0.7"/>
<text x="217.2" y="525.87" font-size="7.7" text-anchor="end" fill="#111">0</text>
<line x1="218" y1="509.4" x2="219.8" y2="509.4" stroke="#3c3c3c" stroke-width="0.7"/>
<text x="217.2" y="512.17" font-size="7.7" text-anchor="end" fill="#111">25</text>
<line x1="218" y1="495.7" x2="219.8" y2="495.7" stroke="#3c3c3c" stroke-width="0.7"/>
<text x="217.2" y="498.47" font-size="7.7" text-anchor="end" fill="#111">50</text>
<line x1="218" y1="482" x2="219.8" y2="482" stroke="#3c3c3c" stroke-width="0.7"/>
<text x="217.2" y="484.77" font-size="7.7" text-anchor="end" fill="#111">75</text>
<line x1="218" y1="468.3" x2="219.8" y2="468.3" stroke="#3c3c3c" stroke-width="0.7"/>
<text x="217.2" y="471.07" font-size="7.7" text-anchor="end" fill="#111">100</text>
<line x1="218" y1="454.6" x2="219.8" y2="454.6" stroke="#3c3c3c" stroke-width="0.7"/>
<text x="217.2" y="457.37" font-size="7.7" text-anchor="end" fill="#111">125</text>
<line x1="218" y1="440.9" x2="219.8" y2="440.9" stroke="#3c3c3c" stroke-width="0.7"/>
<text x="217.2" y="443.67" font-size="7.7" text-anchor="end" fill="#111">150</text>
<line x1="218" y1="427.2" x2="219.8" y2="427.2" stroke="#3c3c3c" stroke-width="0.7"/>
<text x="217.2" y="429.97" font-size="7.7" text-anchor="end" fill="#111">175</text>
<line x1="219.8" y1="523.1" x2="284.2" y2="523.1" stroke="#3c3c3c" stroke-width="0.8"/>
<line x1="227.95" y1="445" x2="227.95" y2="441.6" stroke="#8a8a8a" stroke-width="0.6"/>
<line x1="225.95" y1="441.6" x2="229.95" y2="441.6" stroke="#8a8a8a" stroke-width="0.6"/>
<line x1="243.5" y1="469.7" x2="243.5" y2="461.8" stroke="#8a8a8a" stroke-width="0.6"/>
<line x1="241.5" y1="461.8" x2="245.5" y2="461.8" stroke="#8a8a8a" stroke-width="0.6"/>
<line x1="259.7" y1="461.5" x2="259.7" y2="457" stroke="#8a8a8a" stroke-width="0.6"/>
<line x1="257.7" y1="457" x2="261.7" y2="457" stroke="#8a8a8a" stroke-width="0.6"/>
<line x1="275.75" y1="476.5" x2="275.75" y2="468.4" stroke="#8a8a8a" stroke-width="0.6"/>
<line x1="273.75" y1="468.4" x2="277.75" y2="468.4" stroke="#8a8a8a" stroke-width="0.6"/>
<rect x="222.2" y="445" width="11.5" height="78.1" fill="#0b0b7e" stroke="#000050" stroke-width="0.6"/>
<rect x="237.8" y="469.7" width="11.4" height="53.4" fill="#0b0b7e" stroke="#000050" stroke-width="0.6"/>
<rect x="254.1" y="461.5" width="11.2" height="61.6" fill="#0b0b7e" stroke="#000050" stroke-width="0.6"/>
<rect x="270.2" y="476.5" width="11.1" height="46.6" fill="#0b0b7e" stroke="#000050" stroke-width="0.6"/>
<path d="M243.9 458.6 L243.9 455.93 M243.9 458.6 L246.44 457.78 M243.9 458.6 L245.47 460.76 M243.9 458.6 L242.33 460.76 M243.9 458.6 L241.36 457.78" stroke="#111" stroke-width="1.55" stroke-linecap="round" fill="none"/>
<path d="M259.7 453.7 L259.7 451.22 M259.7 453.7 L262.06 452.93 M259.7 453.7 L261.16 455.71 M259.7 453.7 L258.24 455.71 M259.7 453.7 L257.34 452.93" stroke="#111" stroke-width="1.55" stroke-linecap="round" fill="none"/>
<path d="M275.4 464 L275.4 461.52 M275.4 464 L277.76 463.23 M275.4 464 L276.86 466.01 M275.4 464 L273.94 466.01 M275.4 464 L273.04 463.23" stroke="#111" stroke-width="1.55" stroke-linecap="round" fill="none"/>
<text x="215" y="534.2" font-size="8" text-anchor="end" fill="#222">OB</text>
<text x="215" y="545.8" font-size="8" text-anchor="end" fill="#222">LSK</text>
<text x="228.25" y="534.2" font-size="8" text-anchor="middle" fill="#222">WT</text>
<text x="228.25" y="545.8" font-size="8" text-anchor="middle" fill="#222">WT</text>
<text x="243.8" y="534.2" font-size="8" text-anchor="middle" fill="#222">WT</text>
<text x="243.8" y="545.8" font-size="8" text-anchor="middle" fill="#222">KO</text>
<text x="260" y="534.2" font-size="8" text-anchor="middle" fill="#222">KO</text>
<text x="260" y="545.8" font-size="8" text-anchor="middle" fill="#222">WT</text>
<text x="276.05" y="534.2" font-size="8" text-anchor="middle" fill="#222">KO</text>
<text x="276.05" y="545.8" font-size="8" text-anchor="middle" fill="#222">KO</text>
<text x="197.5" y="471" font-size="9.2" text-anchor="middle" fill="#222" transform="rotate(-90 197.5 471)"># of CFU / 10<tspan font-size="6" dy="-3.6">3</tspan><tspan dy="3.6">LSK</tspan></text>
<text x="326.1" y="434" font-size="16" font-weight="bold" fill="#000">L</text>
<line x1="373.5" y1="513.77" x2="472.5" y2="513.77" stroke="#d4d4d4" stroke-width="0.7"/>
<line x1="373.5" y1="499.44" x2="472.5" y2="499.44" stroke="#d4d4d4" stroke-width="0.7"/>
<line x1="373.5" y1="485.11" x2="472.5" y2="485.11" stroke="#d4d4d4" stroke-width="0.7"/>
<line x1="373.5" y1="470.79" x2="472.5" y2="470.79" stroke="#d4d4d4" stroke-width="0.7"/>
<line x1="373.5" y1="456.46" x2="472.5" y2="456.46" stroke="#d4d4d4" stroke-width="0.7"/>
<line x1="373.5" y1="442.13" x2="472.5" y2="442.13" stroke="#d4d4d4" stroke-width="0.7"/>
<line x1="373.5" y1="426.5" x2="373.5" y2="528.1" stroke="#3c3c3c" stroke-width="0.8"/>
<line x1="371.7" y1="528.1" x2="373.5" y2="528.1" stroke="#3c3c3c" stroke-width="0.7"/>
<text x="370.9" y="530.87" font-size="7.7" text-anchor="end" fill="#111">0</text>
<line x1="371.7" y1="513.77" x2="373.5" y2="513.77" stroke="#3c3c3c" stroke-width="0.7"/>
<text x="370.9" y="516.54" font-size="7.7" text-anchor="end" fill="#111">25</text>
<line x1="371.7" y1="499.44" x2="373.5" y2="499.44" stroke="#3c3c3c" stroke-width="0.7"/>
<text x="370.9" y="502.21" font-size="7.7" text-anchor="end" fill="#111">50</text>
<line x1="371.7" y1="485.11" x2="373.5" y2="485.11" stroke="#3c3c3c" stroke-width="0.7"/>
<text x="370.9" y="487.89" font-size="7.7" text-anchor="end" fill="#111">75</text>
<line x1="371.7" y1="470.79" x2="373.5" y2="470.79" stroke="#3c3c3c" stroke-width="0.7"/>
<text x="370.9" y="473.56" font-size="7.7" text-anchor="end" fill="#111">100</text>
<line x1="371.7" y1="456.46" x2="373.5" y2="456.46" stroke="#3c3c3c" stroke-width="0.7"/>
<text x="370.9" y="459.23" font-size="7.7" text-anchor="end" fill="#111">125</text>
<line x1="371.7" y1="442.13" x2="373.5" y2="442.13" stroke="#3c3c3c" stroke-width="0.7"/>
<text x="370.9" y="444.9" font-size="7.7" text-anchor="end" fill="#111">150</text>
<line x1="371.7" y1="427.8" x2="373.5" y2="427.8" stroke="#3c3c3c" stroke-width="0.7"/>
<text x="370.9" y="430.57" font-size="7.7" text-anchor="end" fill="#111">175</text>
<line x1="373.5" y1="528.1" x2="472.5" y2="528.1" stroke="#3c3c3c" stroke-width="0.8"/>
<line x1="381.7" y1="485.8" x2="381.7" y2="480.3" stroke="#8a8a8a" stroke-width="0.6"/>
<line x1="379.7" y1="480.3" x2="383.7" y2="480.3" stroke="#8a8a8a" stroke-width="0.6"/>
<line x1="398.5" y1="496" x2="398.5" y2="478.5" stroke="#8a8a8a" stroke-width="0.6"/>
<line x1="396.5" y1="478.5" x2="400.5" y2="478.5" stroke="#8a8a8a" stroke-width="0.6"/>
<line x1="415.3" y1="448.1" x2="415.3" y2="434.2" stroke="#8a8a8a" stroke-width="0.6"/>
<line x1="413.3" y1="434.2" x2="417.3" y2="434.2" stroke="#8a8a8a" stroke-width="0.6"/>
<line x1="431.55" y1="466.8" x2="431.55" y2="461" stroke="#8a8a8a" stroke-width="0.6"/>
<line x1="429.55" y1="461" x2="433.55" y2="461" stroke="#8a8a8a" stroke-width="0.6"/>
<line x1="448.2" y1="497" x2="448.2" y2="494" stroke="#8a8a8a" stroke-width="0.6"/>
<line x1="446.2" y1="494" x2="450.2" y2="494" stroke="#8a8a8a" stroke-width="0.6"/>
<line x1="464.3" y1="498.2" x2="464.3" y2="488.7" stroke="#8a8a8a" stroke-width="0.6"/>
<line x1="462.3" y1="488.7" x2="466.3" y2="488.7" stroke="#8a8a8a" stroke-width="0.6"/>
<rect x="375.7" y="485.8" width="12" height="42.3" fill="#0b0b7e" stroke="#000050" stroke-width="0.6"/>
<rect x="392.8" y="496" width="11.4" height="32.1" fill="#0b0b7e" stroke="#000050" stroke-width="0.6"/>
<rect x="409.3" y="448.1" width="12" height="80" fill="#0b0b7e" stroke="#000050" stroke-width="0.6"/>
<rect x="425.7" y="466.8" width="11.7" height="61.3" fill="#0b0b7e" stroke="#000050" stroke-width="0.6"/>
<rect x="442.2" y="497" width="12" height="31.1" fill="#0b0b7e" stroke="#000050" stroke-width="0.6"/>
<rect x="458.6" y="498.2" width="11.4" height="29.9" fill="#0b0b7e" stroke="#000050" stroke-width="0.6"/>
<path d="M379.8 480.3 L379.8 429.4 L413.5 429.4 L413.5 431" stroke="#808080" stroke-width="0.6" fill="none"/>
<path d="M382.3 480.3 L382.3 432.3 L430.8 432.3 L430.8 461" stroke="#808080" stroke-width="0.6" fill="none"/>
<path d="M415 434.2 L415 425.6 L464.4 425.6 L464.4 488.7" stroke="#808080" stroke-width="0.6" fill="none"/>
<path d="M409.6 427.5 L409.6 425.57 M409.6 427.5 L411.44 426.9 M409.6 427.5 L410.74 429.06 M409.6 427.5 L408.46 429.06 M409.6 427.5 L407.76 426.9" stroke="#111" stroke-width="1.1" stroke-linecap="round" fill="none"/>
<path d="M427.9 430 L427.9 428.07 M427.9 430 L429.74 429.4 M427.9 430 L429.04 431.56 M427.9 430 L426.76 431.56 M427.9 430 L426.06 429.4" stroke="#111" stroke-width="1.1" stroke-linecap="round" fill="none"/>
<path d="M459.6 423.7 L459.6 421.77 M459.6 423.7 L461.44 423.1 M459.6 423.7 L460.74 425.26 M459.6 423.7 L458.46 425.26 M459.6 423.7 L457.76 423.1" stroke="#111" stroke-width="1.1" stroke-linecap="round" fill="none"/>
<text x="374.5" y="538.5" font-size="8.2" text-anchor="end" fill="#222">WT OB</text>
<text x="381.7" y="538.5" font-size="8.6" text-anchor="middle" font-weight="bold" fill="#222">+</text>
<line x1="397.6" y1="535.7" x2="399.8" y2="535.7" stroke="#333" stroke-width="0.9"/>
<text x="415.4" y="538.5" font-size="8.6" text-anchor="middle" font-weight="bold" fill="#222">+</text>
<line x1="430.4" y1="535.7" x2="432.6" y2="535.7" stroke="#333" stroke-width="0.9"/>
<text x="447.7" y="538.5" font-size="8.6" text-anchor="middle" font-weight="bold" fill="#222">+</text>
<line x1="463.3" y1="535.7" x2="465.5" y2="535.7" stroke="#333" stroke-width="0.9"/>
<text x="374.5" y="548.7" font-size="8.2" text-anchor="end" fill="#222">KO OB</text>
<line x1="380.6" y1="545.9" x2="382.8" y2="545.9" stroke="#333" stroke-width="0.9"/>
<text x="398.7" y="548.7" font-size="8.6" text-anchor="middle" font-weight="bold" fill="#222">+</text>
<line x1="414.3" y1="545.9" x2="416.5" y2="545.9" stroke="#333" stroke-width="0.9"/>
<text x="431.5" y="548.7" font-size="8.6" text-anchor="middle" font-weight="bold" fill="#222">+</text>
<line x1="446.6" y1="545.9" x2="448.8" y2="545.9" stroke="#333" stroke-width="0.9"/>
<text x="464.4" y="548.7" font-size="8.6" text-anchor="middle" font-weight="bold" fill="#222">+</text>
<text x="374.5" y="559.5" font-size="8.2" text-anchor="end" fill="#222">LSK</text>
<text x="381.7" y="559.5" font-size="8.6" text-anchor="middle" font-weight="bold" fill="#222">+</text>
<text x="398.7" y="559.5" font-size="8.6" text-anchor="middle" font-weight="bold" fill="#222">+</text>
<line x1="414.3" y1="556.7" x2="416.5" y2="556.7" stroke="#333" stroke-width="0.9"/>
<line x1="430.4" y1="556.7" x2="432.6" y2="556.7" stroke="#333" stroke-width="0.9"/>
<line x1="446.6" y1="556.7" x2="448.8" y2="556.7" stroke="#333" stroke-width="0.9"/>
<line x1="463.3" y1="556.7" x2="465.5" y2="556.7" stroke="#333" stroke-width="0.9"/>
<text x="374.5" y="570.2" font-size="8.2" text-anchor="end" fill="#222">166- LSK</text>
<line x1="380.6" y1="567.4" x2="382.8" y2="567.4" stroke="#333" stroke-width="0.9"/>
<line x1="397.6" y1="567.4" x2="399.8" y2="567.4" stroke="#333" stroke-width="0.9"/>
<line x1="414.3" y1="567.4" x2="416.5" y2="567.4" stroke="#333" stroke-width="0.9"/>
<line x1="430.4" y1="567.4" x2="432.6" y2="567.4" stroke="#333" stroke-width="0.9"/>
<text x="447.7" y="570.2" font-size="8.6" text-anchor="middle" font-weight="bold" fill="#222">+</text>
<text x="464.4" y="570.2" font-size="8.6" text-anchor="middle" font-weight="bold" fill="#222">+</text>
<text x="374.5" y="581" font-size="8.2" text-anchor="end" fill="#222">166+ LSK</text>
<line x1="380.6" y1="578.2" x2="382.8" y2="578.2" stroke="#333" stroke-width="0.9"/>
<line x1="397.6" y1="578.2" x2="399.8" y2="578.2" stroke="#333" stroke-width="0.9"/>
<text x="415.4" y="581" font-size="8.6" text-anchor="middle" font-weight="bold" fill="#222">+</text>
<text x="431.5" y="581" font-size="8.6" text-anchor="middle" font-weight="bold" fill="#222">+</text>
<line x1="446.6" y1="578.2" x2="448.8" y2="578.2" stroke="#333" stroke-width="0.9"/>
<line x1="463.3" y1="578.2" x2="465.5" y2="578.2" stroke="#333" stroke-width="0.9"/>
<text x="348" y="472.4" font-size="9.4" text-anchor="middle" fill="#222" transform="rotate(-90 348 472.4)">CFU  fold increase</text>
<text x="0" y="608" font-size="16" font-weight="bold" fill="#000">M</text>
<rect x="19" y="607" width="54" height="54.6" fill="none" stroke="#3a3a3a" stroke-width="0.9"/>
<text x="46" y="605.4" font-size="10.8" text-anchor="middle" fill="#1a1a1a">CD44</text>
<line x1="29.58" y1="661.6" x2="29.58" y2="662.6" stroke="#777" stroke-width="0.5"/>
<text x="29.58" y="667.6" font-size="3.2" text-anchor="middle" fill="#888" style="stroke:none">0</text>
<line x1="39.79" y1="661.6" x2="39.79" y2="662.6" stroke="#777" stroke-width="0.5"/>
<text x="39.19" y="667.6" font-size="3.2" text-anchor="middle" fill="#888" style="stroke:none">10<tspan font-size="2.4" dy="-1.2">2</tspan></text>
<line x1="54.37" y1="661.6" x2="54.37" y2="662.6" stroke="#777" stroke-width="0.5"/>
<text x="53.77" y="667.6" font-size="3.2" text-anchor="middle" fill="#888" style="stroke:none">10<tspan font-size="2.4" dy="-1.2">3</tspan></text>
<line x1="65.71" y1="661.6" x2="65.71" y2="662.6" stroke="#777" stroke-width="0.5"/>
<text x="65.11" y="667.6" font-size="3.2" text-anchor="middle" fill="#888" style="stroke:none">10<tspan font-size="2.4" dy="-1.2">4</tspan></text>
<rect x="87" y="607" width="54" height="54.6" fill="none" stroke="#3a3a3a" stroke-width="0.9"/>
<text x="114" y="605.4" font-size="10.8" text-anchor="middle" fill="#1a1a1a">CD49d</text>
<line x1="97.58" y1="661.6" x2="97.58" y2="662.6" stroke="#777" stroke-width="0.5"/>
<text x="97.58" y="667.6" font-size="3.2" text-anchor="middle" fill="#888" style="stroke:none">0</text>
<line x1="107.79" y1="661.6" x2="107.79" y2="662.6" stroke="#777" stroke-width="0.5"/>
<text x="107.19" y="667.6" font-size="3.2" text-anchor="middle" fill="#888" style="stroke:none">10<tspan font-size="2.4" dy="-1.2">2</tspan></text>
<line x1="122.37" y1="661.6" x2="122.37" y2="662.6" stroke="#777" stroke-width="0.5"/>
<text x="121.77" y="667.6" font-size="3.2" text-anchor="middle" fill="#888" style="stroke:none">10<tspan font-size="2.4" dy="-1.2">3</tspan></text>
<line x1="133.71" y1="661.6" x2="133.71" y2="662.6" stroke="#777" stroke-width="0.5"/>
<text x="133.11" y="667.6" font-size="3.2" text-anchor="middle" fill="#888" style="stroke:none">10<tspan font-size="2.4" dy="-1.2">4</tspan></text>
<rect x="155.5" y="607" width="54" height="54.6" fill="none" stroke="#3a3a3a" stroke-width="0.9"/>
<text x="182.5" y="605.4" font-size="10.8" text-anchor="middle" fill="#1a1a1a">CD49e</text>
<line x1="166.08" y1="661.6" x2="166.08" y2="662.6" stroke="#777" stroke-width="0.5"/>
<text x="166.08" y="667.6" font-size="3.2" text-anchor="middle" fill="#888" style="stroke:none">0</text>
<line x1="176.29" y1="661.6" x2="176.29" y2="662.6" stroke="#777" stroke-width="0.5"/>
<text x="175.69" y="667.6" font-size="3.2" text-anchor="middle" fill="#888" style="stroke:none">10<tspan font-size="2.4" dy="-1.2">2</tspan></text>
<line x1="190.87" y1="661.6" x2="190.87" y2="662.6" stroke="#777" stroke-width="0.5"/>
<text x="190.27" y="667.6" font-size="3.2" text-anchor="middle" fill="#888" style="stroke:none">10<tspan font-size="2.4" dy="-1.2">3</tspan></text>
<line x1="202.21" y1="661.6" x2="202.21" y2="662.6" stroke="#777" stroke-width="0.5"/>
<text x="201.61" y="667.6" font-size="3.2" text-anchor="middle" fill="#888" style="stroke:none">10<tspan font-size="2.4" dy="-1.2">4</tspan></text>
<rect x="223" y="607" width="54" height="54.6" fill="none" stroke="#3a3a3a" stroke-width="0.9"/>
<text x="250" y="605.4" font-size="10.8" text-anchor="middle" fill="#1a1a1a">CD61</text>
<line x1="233.58" y1="661.6" x2="233.58" y2="662.6" stroke="#777" stroke-width="0.5"/>
<text x="233.58" y="667.6" font-size="3.2" text-anchor="middle" fill="#888" style="stroke:none">0</text>
<line x1="243.79" y1="661.6" x2="243.79" y2="662.6" stroke="#777" stroke-width="0.5"/>
<text x="243.19" y="667.6" font-size="3.2" text-anchor="middle" fill="#888" style="stroke:none">10<tspan font-size="2.4" dy="-1.2">2</tspan></text>
<line x1="258.37" y1="661.6" x2="258.37" y2="662.6" stroke="#777" stroke-width="0.5"/>
<text x="257.77" y="667.6" font-size="3.2" text-anchor="middle" fill="#888" style="stroke:none">10<tspan font-size="2.4" dy="-1.2">3</tspan></text>
<line x1="269.71" y1="661.6" x2="269.71" y2="662.6" stroke="#777" stroke-width="0.5"/>
<text x="269.11" y="667.6" font-size="3.2" text-anchor="middle" fill="#888" style="stroke:none">10<tspan font-size="2.4" dy="-1.2">4</tspan></text>
<rect x="19" y="684.5" width="54" height="54.6" fill="none" stroke="#3a3a3a" stroke-width="0.9"/>
<text x="46" y="682.9" font-size="10.8" text-anchor="middle" fill="#1a1a1a">CD62L</text>
<line x1="29.58" y1="739.1" x2="29.58" y2="740.1" stroke="#777" stroke-width="0.5"/>
<text x="29.58" y="745.1" font-size="3.2" text-anchor="middle" fill="#888" style="stroke:none">0</text>
<line x1="39.79" y1="739.1" x2="39.79" y2="740.1" stroke="#777" stroke-width="0.5"/>
<text x="39.19" y="745.1" font-size="3.2" text-anchor="middle" fill="#888" style="stroke:none">10<tspan font-size="2.4" dy="-1.2">2</tspan></text>
<line x1="54.37" y1="739.1" x2="54.37" y2="740.1" stroke="#777" stroke-width="0.5"/>
<text x="53.77" y="745.1" font-size="3.2" text-anchor="middle" fill="#888" style="stroke:none">10<tspan font-size="2.4" dy="-1.2">3</tspan></text>
<line x1="65.71" y1="739.1" x2="65.71" y2="740.1" stroke="#777" stroke-width="0.5"/>
<text x="65.11" y="745.1" font-size="3.2" text-anchor="middle" fill="#888" style="stroke:none">10<tspan font-size="2.4" dy="-1.2">4</tspan></text>
<rect x="87" y="684.5" width="54" height="54.6" fill="none" stroke="#3a3a3a" stroke-width="0.9"/>
<text x="114" y="682.9" font-size="10.8" text-anchor="middle" fill="#1a1a1a">CD144</text>
<line x1="97.58" y1="739.1" x2="97.58" y2="740.1" stroke="#777" stroke-width="0.5"/>
<text x="97.58" y="745.1" font-size="3.2" text-anchor="middle" fill="#888" style="stroke:none">0</text>
<line x1="107.79" y1="739.1" x2="107.79" y2="740.1" stroke="#777" stroke-width="0.5"/>
<text x="107.19" y="745.1" font-size="3.2" text-anchor="middle" fill="#888" style="stroke:none">10<tspan font-size="2.4" dy="-1.2">2</tspan></text>
<line x1="122.37" y1="739.1" x2="122.37" y2="740.1" stroke="#777" stroke-width="0.5"/>
<text x="121.77" y="745.1" font-size="3.2" text-anchor="middle" fill="#888" style="stroke:none">10<tspan font-size="2.4" dy="-1.2">3</tspan></text>
<line x1="133.71" y1="739.1" x2="133.71" y2="740.1" stroke="#777" stroke-width="0.5"/>
<text x="133.11" y="745.1" font-size="3.2" text-anchor="middle" fill="#888" style="stroke:none">10<tspan font-size="2.4" dy="-1.2">4</tspan></text>
<rect x="155.5" y="684.5" width="54" height="54.6" fill="none" stroke="#3a3a3a" stroke-width="0.9"/>
<text x="182.5" y="682.9" font-size="10.8" text-anchor="middle" fill="#1a1a1a">CD162</text>
<line x1="166.08" y1="739.1" x2="166.08" y2="740.1" stroke="#777" stroke-width="0.5"/>
<text x="166.08" y="745.1" font-size="3.2" text-anchor="middle" fill="#888" style="stroke:none">0</text>
<line x1="176.29" y1="739.1" x2="176.29" y2="740.1" stroke="#777" stroke-width="0.5"/>
<text x="175.69" y="745.1" font-size="3.2" text-anchor="middle" fill="#888" style="stroke:none">10<tspan font-size="2.4" dy="-1.2">2</tspan></text>
<line x1="190.87" y1="739.1" x2="190.87" y2="740.1" stroke="#777" stroke-width="0.5"/>
<text x="190.27" y="745.1" font-size="3.2" text-anchor="middle" fill="#888" style="stroke:none">10<tspan font-size="2.4" dy="-1.2">3</tspan></text>
<line x1="202.21" y1="739.1" x2="202.21" y2="740.1" stroke="#777" stroke-width="0.5"/>
<text x="201.61" y="745.1" font-size="3.2" text-anchor="middle" fill="#888" style="stroke:none">10<tspan font-size="2.4" dy="-1.2">4</tspan></text>
<rect x="223" y="684.5" width="54" height="54.6" fill="none" stroke="#3a3a3a" stroke-width="0.9"/>
<text x="250" y="682.9" font-size="10.8" text-anchor="middle" fill="#1a1a1a">CXCR4</text>
<line x1="233.58" y1="739.1" x2="233.58" y2="740.1" stroke="#777" stroke-width="0.5"/>
<text x="233.58" y="745.1" font-size="3.2" text-anchor="middle" fill="#888" style="stroke:none">0</text>
<line x1="243.79" y1="739.1" x2="243.79" y2="740.1" stroke="#777" stroke-width="0.5"/>
<text x="243.19" y="745.1" font-size="3.2" text-anchor="middle" fill="#888" style="stroke:none">10<tspan font-size="2.4" dy="-1.2">2</tspan></text>
<line x1="258.37" y1="739.1" x2="258.37" y2="740.1" stroke="#777" stroke-width="0.5"/>
<text x="257.77" y="745.1" font-size="3.2" text-anchor="middle" fill="#888" style="stroke:none">10<tspan font-size="2.4" dy="-1.2">3</tspan></text>
<line x1="269.71" y1="739.1" x2="269.71" y2="740.1" stroke="#777" stroke-width="0.5"/>
<text x="269.11" y="745.1" font-size="3.2" text-anchor="middle" fill="#888" style="stroke:none">10<tspan font-size="2.4" dy="-1.2">4</tspan></text>
<line x1="288" y1="611.2" x2="308.5" y2="611.2" stroke="#0a0a0a" stroke-width="1.6"/>
<text x="311.5" y="614.5" font-size="9.1" fill="#1a1a1a">ISO - WT</text>
<line x1="288" y1="620.8" x2="308.5" y2="620.8" stroke="#808080" stroke-width="1.6"/>
<text x="311.5" y="624.1" font-size="9.1" fill="#1a1a1a">ISO - KO</text>
<line x1="288" y1="630.8" x2="308.5" y2="630.8" stroke="#1c1cb4" stroke-width="1.6"/>
<text x="311.5" y="634.1" font-size="9.1" fill="#1a1a1a">WT</text>
<line x1="288" y1="641.3" x2="308.5" y2="641.3" stroke="#b02828" stroke-width="1.6"/>
<text x="311.5" y="644.6" font-size="9.1" fill="#1a1a1a">CD166 KO</text>
<path d="M19 661.4 L19.78 661.4 L20.88 661.4 L22.2 661.4 L23.62 661.4 L25.06 661.4 L26.42 661.4 L27.58 661.4 L28.45 661.4 L29.03 661.31 L29.42 661.36 L29.65 661.4 L29.78 661.4 L29.85 661.22 L29.89 660.67 L29.95 659.67 L30.07 658.11 L30.23 655.84 L30.38 652.9 L30.53 649.48 L30.66 645.75 L30.79 641.88 L30.91 638.06 L31.03 634.46 L31.15 631.26 L31.26 628.13 L31.37 624.78 L31.47 621.39 L31.57 618.18 L31.67 615.33 L31.76 613.05 L31.86 611.53 L31.96 610.98 L32.06 611.54 L32.16 613.07 L32.26 615.38 L32.37 618.25 L32.47 621.47 L32.57 624.86 L32.67 628.19 L32.77 631.26 L32.87 634.36 L32.96 637.81 L33.05 641.46 L33.14 645.13 L33.24 648.68 L33.34 651.95 L33.45 654.78 L33.58 657.02 L33.47 658.62 L33.02 659.72 L32.43 660.42 L31.93 660.82 L31.71 661.02 L32 661.11 L33 661.21 L34.93 661.4 L38.19 661.4 L42.76 661.4 L48.19 661.4 L54.05 661.4 L59.9 661.4 L65.3 661.4 L69.81 661.4 L73 661.4" stroke="#aaa" stroke-width="0.7" fill="none" stroke-dasharray="1 0.6" stroke-linejoin="round"/>
<path d="M19 661.4 L19.76 661.4 L20.83 661.4 L22.1 661.4 L23.49 661.4 L24.89 661.4 L26.2 661.4 L27.33 661.4 L28.18 661.4 L28.75 661.31 L29.13 661.36 L29.36 661.4 L29.5 661.4 L29.56 661.22 L29.61 660.67 L29.68 659.67 L29.8 658.11 L29.96 655.85 L30.11 652.93 L30.26 649.53 L30.39 645.82 L30.52 641.96 L30.64 638.14 L30.76 634.52 L30.88 631.26 L30.99 628.03 L31.1 624.53 L31.2 620.97 L31.3 617.56 L31.4 614.53 L31.49 612.1 L31.59 610.48 L31.69 609.89 L31.79 610.48 L31.89 612.12 L31.99 614.58 L32.09 617.63 L32.2 621.05 L32.3 624.61 L32.4 628.09 L32.5 631.26 L32.6 634.42 L32.69 637.89 L32.78 641.54 L32.87 645.2 L32.97 648.73 L33.07 651.98 L33.18 654.79 L33.31 657.02 L33.2 658.62 L32.74 659.72 L32.15 660.42 L31.64 660.82 L31.42 661.02 L31.71 661.11 L32.72 661.21 L34.66 661.4 L37.94 661.4 L42.54 661.4 L48.01 661.4 L53.91 661.4 L59.81 661.4 L65.24 661.4 L69.79 661.4 L73 661.4" stroke="#333" stroke-width="0.55" fill="none" stroke-linejoin="round"/>
<path d="M19 661.4 L20.12 661.4 L21.68 661.4 L23.55 661.4 L25.58 661.4 L27.64 661.4 L29.57 661.4 L31.24 661.4 L32.5 661.4 L33.34 661.37 L33.87 661.35 L34.18 661.33 L34.36 661.3 L34.46 661.24 L34.59 661.16 L34.81 661.03 L35.2 660.85 L35.75 660.64 L36.39 660.41 L37.07 660.15 L37.8 659.86 L38.54 659.52 L39.26 659.12 L39.96 658.65 L40.6 658.11 L41.2 657.47 L41.79 656.74 L42.37 655.93 L42.93 655.06 L43.47 654.17 L43.98 653.27 L44.46 652.38 L44.92 651.54 L45.34 650.69 L45.73 649.81 L46.08 648.93 L46.42 648.04 L46.73 647.19 L47.04 646.37 L47.33 645.62 L47.62 644.96 L47.9 644.33 L48.16 643.69 L48.41 643.08 L48.65 642.53 L48.88 642.08 L49.1 641.76 L49.33 641.61 L49.56 641.67 L49.8 641.98 L50.02 642.54 L50.25 643.27 L50.47 644.14 L50.69 645.07 L50.92 646.01 L51.16 646.91 L51.4 647.7 L51.66 648.46 L51.93 649.28 L52.21 650.11 L52.49 650.92 L52.78 651.67 L53.05 652.32 L53.31 652.84 L53.56 653.18 L53.78 653.42 L53.98 653.62 L54.16 653.74 L54.34 653.73 L54.52 653.55 L54.71 653.15 L54.93 652.5 L55.18 651.54 L55.47 650.21 L55.79 648.54 L56.14 646.6 L56.5 644.45 L56.86 642.15 L57.22 639.78 L57.56 637.41 L57.88 635.1 L58.18 632.68 L58.47 630.02 L58.75 627.24 L59.03 624.44 L59.29 621.75 L59.55 619.26 L59.8 617.1 L60.04 615.37 L60.27 614.02 L60.48 612.93 L60.69 612.09 L60.88 611.5 L61.08 611.15 L61.27 611.04 L61.46 611.17 L61.66 611.53 L61.86 612.2 L62.06 613.19 L62.27 614.46 L62.47 615.95 L62.67 617.61 L62.87 619.38 L63.08 621.21 L63.28 623.04 L63.48 625.03 L63.68 627.28 L63.89 629.7 L64.09 632.18 L64.29 634.62 L64.5 636.9 L64.7 638.92 L64.9 640.58 L65.1 641.81 L65.28 642.69 L65.46 643.32 L65.64 643.8 L65.83 644.21 L66.04 644.66 L66.27 645.24 L66.52 646.06 L66.81 647.11 L67.13 648.33 L67.48 649.65 L67.84 651.02 L68.2 652.39 L68.56 653.7 L68.9 654.89 L69.22 655.92 L69.52 656.8 L69.81 657.6 L70.09 658.32 L70.37 658.97 L70.63 659.54 L70.89 660.04 L71.14 660.48 L71.38 660.85 L71.62 661.13 L71.86 661.31 L72.1 661.4 L72.33 661.4 L72.53 661.4 L72.72 661.4 L72.88 661.39 L73 661.4" stroke="#4040b0" stroke-width="0.9" fill="none" stroke-linejoin="round"/>
<path d="M19 661.4 L20.12 661.4 L21.68 661.4 L23.55 661.4 L25.58 661.4 L27.64 661.4 L29.57 661.4 L31.24 661.4 L32.5 661.4 L33.34 661.37 L33.87 661.34 L34.18 661.31 L34.36 661.26 L34.46 661.2 L34.59 661.12 L34.81 661 L35.2 660.85 L35.75 660.68 L36.39 660.51 L37.07 660.32 L37.8 660.1 L38.54 659.84 L39.26 659.52 L39.96 659.13 L40.6 658.66 L41.2 658.09 L41.79 657.44 L42.37 656.7 L42.93 655.92 L43.47 655.1 L43.98 654.27 L44.46 653.44 L44.92 652.63 L45.34 651.81 L45.72 650.94 L46.07 650.04 L46.41 649.14 L46.72 648.27 L47.02 647.44 L47.32 646.7 L47.62 646.06 L47.92 645.47 L48.2 644.9 L48.47 644.36 L48.73 643.9 L48.99 643.53 L49.25 643.29 L49.51 643.21 L49.78 643.32 L50.05 643.66 L50.32 644.23 L50.59 644.98 L50.86 645.85 L51.13 646.78 L51.4 647.71 L51.67 648.58 L51.94 649.34 L52.21 650.06 L52.49 650.82 L52.77 651.59 L53.05 652.32 L53.33 653 L53.6 653.57 L53.86 654.01 L54.1 654.28 L54.32 654.45 L54.52 654.6 L54.7 654.67 L54.88 654.62 L55.06 654.38 L55.25 653.92 L55.47 653.17 L55.72 652.08 L56.01 650.6 L56.34 648.72 L56.69 646.54 L57.05 644.14 L57.42 641.6 L57.78 639.01 L58.11 636.45 L58.42 634 L58.7 631.49 L58.96 628.77 L59.2 625.95 L59.43 623.14 L59.66 620.46 L59.88 618.01 L60.09 615.91 L60.31 614.27 L60.53 613.06 L60.73 612.16 L60.94 611.54 L61.14 611.19 L61.33 611.09 L61.53 611.22 L61.73 611.55 L61.93 612.08 L62.13 612.88 L62.34 613.99 L62.55 615.36 L62.76 616.94 L62.96 618.67 L63.16 620.48 L63.36 622.32 L63.55 624.14 L63.73 626.06 L63.9 628.19 L64.06 630.46 L64.22 632.77 L64.39 635.02 L64.55 637.13 L64.72 639.02 L64.9 640.58 L65.08 641.76 L65.26 642.61 L65.44 643.24 L65.63 643.73 L65.82 644.16 L66.03 644.63 L66.26 645.24 L66.52 646.06 L66.81 647.11 L67.13 648.33 L67.48 649.65 L67.84 651.02 L68.2 652.39 L68.56 653.7 L68.9 654.89 L69.22 655.92 L69.52 656.8 L69.81 657.6 L70.09 658.32 L70.37 658.97 L70.63 659.54 L70.89 660.04 L71.14 660.48 L71.38 660.85 L71.62 661.13 L71.86 661.31 L72.1 661.4 L72.33 661.4 L72.53 661.4 L72.72 661.4 L72.88 661.39 L73 661.4" stroke="#a8405c" stroke-width="0.8" fill="none" stroke-linejoin="round"/>
<path d="M87 661.4 L87.89 661.4 L89.14 661.4 L90.64 661.4 L92.27 661.4 L93.91 661.4 L95.45 661.4 L96.79 661.4 L97.8 661.4 L98.49 659.26 L98.96 656.37 L99.27 652.94 L99.45 649.14 L99.57 645.16 L99.66 641.18 L99.77 637.4 L99.96 634 L100.19 630.56 L100.4 626.73 L100.61 622.78 L100.8 619 L101 615.65 L101.19 613.01 L101.38 611.37 L101.58 610.98 L101.78 612.18 L101.97 614.83 L102.16 618.55 L102.36 622.94 L102.55 627.61 L102.76 632.19 L102.97 636.27 L103.2 639.48 L103.44 641.96 L103.68 644.14 L103.92 646.06 L104.18 647.77 L104.45 649.29 L104.73 650.68 L105.03 651.96 L105.36 653.18 L105.72 654.28 L106.11 655.19 L106.52 655.96 L106.95 656.61 L107.38 657.17 L107.8 657.68 L108.21 658.16 L108.6 658.66 L108.78 659.15 L108.68 659.6 L108.47 660.01 L108.3 660.37 L108.33 660.69 L108.74 660.97 L109.67 661.21 L111.3 661.4 L113.92 661.4 L117.52 661.4 L121.77 661.4 L126.32 661.4 L130.85 661.4 L135.03 661.4 L138.52 661.4 L141 661.4" stroke="#aaa" stroke-width="0.7" fill="none" stroke-dasharray="1 0.6" stroke-linejoin="round"/>
<path d="M87 661.4 L87.85 661.4 L89.06 661.4 L90.5 661.4 L92.06 661.4 L93.63 661.4 L95.1 661.4 L96.35 661.4 L97.26 661.4 L97.83 659.76 L98.18 657.64 L98.34 655.12 L98.37 652.29 L98.34 649.23 L98.29 646.01 L98.27 642.74 L98.34 639.48 L98.47 635.76 L98.61 631.3 L98.75 626.46 L98.88 621.64 L99.02 617.19 L99.15 613.5 L99.28 610.94 L99.42 609.89 L99.55 610.59 L99.68 612.79 L99.8 616.11 L99.93 620.2 L100.06 624.67 L100.19 629.17 L100.34 633.31 L100.5 636.74 L100.67 639.7 L100.85 642.64 L101.04 645.52 L101.24 648.28 L101.45 650.87 L101.66 653.22 L101.89 655.29 L102.12 657.02 L102.13 658.35 L101.81 659.33 L101.37 660.02 L101.01 660.48 L100.92 660.78 L101.3 660.98 L102.35 661.17 L104.28 661.4 L107.47 661.4 L111.89 661.4 L117.13 661.4 L122.78 661.4 L128.4 661.4 L133.59 661.4 L137.93 661.4 L141 661.4" stroke="#333" stroke-width="0.55" fill="none" stroke-linejoin="round"/>
<path d="M87 661.4 L87.99 661.4 L89.38 661.4 L91.04 661.4 L92.84 661.4 L94.65 661.4 L96.35 661.4 L97.8 661.4 L98.88 661.4 L99.57 659.26 L100.01 656.39 L100.24 652.96 L100.33 649.17 L100.34 645.2 L100.34 641.22 L100.37 637.43 L100.5 634 L100.7 630.57 L100.91 626.8 L101.11 622.93 L101.31 619.2 L101.51 615.85 L101.72 613.12 L101.92 611.23 L102.12 610.44 L102.32 610.97 L102.53 612.73 L102.73 615.38 L102.93 618.62 L103.13 622.14 L103.34 625.63 L103.54 628.77 L103.74 631.26 L103.94 633.24 L104.13 635.07 L104.32 636.76 L104.52 638.32 L104.71 639.74 L104.92 641.05 L105.13 642.24 L105.36 643.32 L105.6 644.25 L105.85 645 L106.11 645.62 L106.37 646.12 L106.65 646.55 L106.93 646.94 L107.22 647.31 L107.52 647.7 L107.84 648.08 L108.17 648.41 L108.52 648.71 L108.87 648.97 L109.22 649.21 L109.57 649.43 L109.9 649.66 L110.22 649.89 L110.52 650.11 L110.81 650.3 L111.09 650.48 L111.37 650.65 L111.63 650.82 L111.89 651.02 L112.14 651.26 L112.38 651.54 L112.6 651.86 L112.8 652.2 L112.98 652.58 L113.16 652.97 L113.34 653.4 L113.53 653.85 L113.75 654.32 L114 654.82 L114.29 655.38 L114.6 656.02 L114.93 656.7 L115.28 657.39 L115.64 658.08 L116 658.72 L116.36 659.29 L116.7 659.76 L116.91 660.13 L116.93 660.44 L116.88 660.69 L116.87 660.89 L117 661.05 L117.4 661.18 L118.16 661.3 L119.4 661.4 L121.34 661.4 L123.98 661.4 L127.06 661.4 L130.37 661.4 L133.65 661.4 L136.68 661.4 L139.2 661.4 L141 661.4" stroke="#4040b0" stroke-width="0.9" fill="none" stroke-linejoin="round"/>
<path d="M87 661.4 L87.99 661.4 L89.38 661.4 L91.04 661.4 L92.84 661.4 L94.65 661.4 L96.35 661.4 L97.8 661.4 L98.88 661.4 L99.58 659.26 L100.01 656.37 L100.25 652.94 L100.35 649.14 L100.36 645.16 L100.35 641.18 L100.38 637.4 L100.5 634 L100.68 630.64 L100.86 626.99 L101.03 623.27 L101.19 619.68 L101.36 616.45 L101.52 613.78 L101.68 611.89 L101.85 610.98 L102.02 611.27 L102.18 612.62 L102.34 614.78 L102.51 617.49 L102.67 620.48 L102.84 623.49 L103.02 626.26 L103.2 628.52 L103.38 630.43 L103.56 632.31 L103.74 634.13 L103.93 635.88 L104.12 637.53 L104.33 639.06 L104.56 640.45 L104.82 641.67 L105.1 642.7 L105.41 643.53 L105.73 644.22 L106.07 644.79 L106.42 645.28 L106.78 645.72 L107.15 646.15 L107.52 646.6 L107.91 647.05 L108.32 647.44 L108.74 647.79 L109.17 648.11 L109.6 648.41 L110.01 648.71 L110.4 649.02 L110.76 649.34 L111.08 649.68 L111.38 649.99 L111.65 650.3 L111.91 650.61 L112.16 650.94 L112.41 651.28 L112.66 651.66 L112.92 652.08 L113.18 652.55 L113.43 653.06 L113.68 653.61 L113.93 654.17 L114.19 654.75 L114.46 655.33 L114.76 655.91 L115.08 656.47 L115.44 657.04 L115.84 657.65 L116.26 658.28 L116.7 658.9 L117.14 659.49 L117.56 660.03 L117.96 660.49 L118.32 660.85 L118.52 661.11 L118.51 661.27 L118.4 661.36 L118.32 661.4 L118.37 661.4 L118.67 661.39 L119.34 661.38 L120.48 661.4 L122.31 661.4 L124.8 661.4 L127.73 661.4 L130.88 661.4 L134 661.4 L136.88 661.4 L139.29 661.4 L141 661.4" stroke="#a8405c" stroke-width="0.8" fill="none" stroke-linejoin="round"/>
<path d="M155.5 661.4 L156.37 661.4 L157.6 661.4 L159.07 661.4 L160.66 661.4 L162.27 661.4 L163.78 661.4 L165.07 661.4 L166.03 661.4 L166.66 659.25 L167.07 656.35 L167.31 652.89 L167.43 649.07 L167.47 645.08 L167.49 641.11 L167.53 637.35 L167.65 634 L167.81 630.7 L167.95 627.11 L168.08 623.45 L168.21 619.96 L168.33 616.85 L168.45 614.35 L168.59 612.68 L168.73 612.08 L168.89 612.7 L169.05 614.41 L169.22 616.97 L169.39 620.13 L169.56 623.65 L169.74 627.3 L169.91 630.83 L170.08 634 L170.25 637.1 L170.42 640.49 L170.6 644.01 L170.77 647.53 L170.94 650.9 L171.11 653.97 L171.27 656.61 L171.43 658.66 L171.33 660.07 L170.88 660.95 L170.28 661.4 L169.74 661.4 L169.49 661.4 L169.72 661.4 L170.66 661.34 L172.51 661.4 L175.67 661.4 L180.1 661.4 L185.38 661.4 L191.07 661.4 L196.76 661.4 L202.01 661.4 L206.4 661.4 L209.5 661.4" stroke="#aaa" stroke-width="0.7" fill="none" stroke-dasharray="1 0.6" stroke-linejoin="round"/>
<path d="M155.5 661.4 L156.35 661.4 L157.55 661.4 L158.98 661.4 L160.53 661.4 L162.09 661.4 L163.56 661.4 L164.82 661.4 L165.76 661.4 L166.38 659.26 L166.79 656.39 L167.02 652.96 L167.14 649.17 L167.19 645.2 L167.22 641.22 L167.26 637.43 L167.38 634 L167.54 630.55 L167.68 626.73 L167.81 622.81 L167.94 619.03 L168.06 615.65 L168.18 612.92 L168.32 611.1 L168.46 610.44 L168.62 611.12 L168.78 612.99 L168.95 615.77 L169.12 619.2 L169.29 623.01 L169.47 626.93 L169.64 630.68 L169.81 634 L169.98 637.18 L170.15 640.6 L170.33 644.13 L170.5 647.63 L170.67 650.97 L170.84 654.01 L171 656.62 L171.16 658.66 L171.06 660.07 L170.6 660.95 L169.99 661.4 L169.46 661.4 L169.2 661.4 L169.43 661.4 L170.38 661.34 L172.24 661.4 L175.42 661.4 L179.88 661.4 L185.2 661.4 L190.94 661.4 L196.67 661.4 L201.96 661.4 L206.38 661.4 L209.5 661.4" stroke="#333" stroke-width="0.55" fill="none" stroke-linejoin="round"/>
<path d="M155.5 661.4 L156.35 661.4 L157.55 661.4 L158.98 661.4 L160.53 661.4 L162.09 661.4 L163.56 661.4 L164.82 661.4 L165.76 661.4 L166.38 659.25 L166.77 656.35 L167 652.89 L167.11 649.07 L167.15 645.08 L167.18 641.11 L167.24 637.35 L167.38 634 L167.58 630.82 L167.77 627.53 L167.96 624.25 L168.16 621.09 L168.35 618.17 L168.56 615.62 L168.77 613.55 L169 612.08 L169.24 611.27 L169.5 611.02 L169.77 611.25 L170.05 611.84 L170.33 612.7 L170.61 613.74 L170.89 614.84 L171.16 615.92 L171.43 617.1 L171.71 618.54 L171.99 620.17 L172.27 621.91 L172.55 623.69 L172.82 625.43 L173.08 627.07 L173.32 628.52 L173.54 629.83 L173.75 631.08 L173.94 632.28 L174.13 633.42 L174.32 634.49 L174.51 635.49 L174.72 636.43 L174.94 637.29 L175.18 638.06 L175.43 638.76 L175.69 639.37 L175.95 639.93 L176.23 640.42 L176.51 640.87 L176.8 641.29 L177.1 641.67 L177.41 642.01 L177.74 642.29 L178.07 642.51 L178.42 642.7 L178.76 642.86 L179.11 643.01 L179.46 643.16 L179.8 643.32 L180.14 643.48 L180.49 643.64 L180.84 643.79 L181.18 643.93 L181.53 644.07 L181.86 644.19 L182.19 644.3 L182.5 644.41 L182.8 644.47 L183.08 644.47 L183.35 644.44 L183.61 644.41 L183.87 644.42 L184.13 644.49 L184.39 644.66 L184.66 644.96 L184.93 645.4 L185.19 645.96 L185.45 646.61 L185.71 647.32 L185.97 648.09 L186.24 648.88 L186.52 649.67 L186.82 650.44 L187.13 651.23 L187.46 652.07 L187.79 652.95 L188.14 653.83 L188.48 654.7 L188.83 655.54 L189.18 656.32 L189.52 657.02 L189.85 657.65 L190.17 658.24 L190.49 658.8 L190.8 659.31 L191.13 659.77 L191.47 660.19 L191.83 660.55 L192.22 660.85 L192.57 661.08 L192.86 661.23 L193.13 661.32 L193.44 661.37 L193.82 661.38 L194.35 661.38 L195.06 661.38 L196 661.4 L197.31 661.4 L199.01 661.4 L200.94 661.4 L202.99 661.4 L205 661.4 L206.85 661.4 L208.39 661.4 L209.5 661.4" stroke="#4040b0" stroke-width="0.9" fill="none" stroke-linejoin="round"/>
<path d="M155.5 661.4 L156.35 661.4 L157.55 661.4 L158.98 661.4 L160.53 661.4 L162.09 661.4 L163.56 661.4 L164.82 661.4 L165.76 661.4 L166.38 659.24 L166.77 656.32 L167 652.84 L167.11 649 L167.15 645 L167.18 641.03 L167.24 637.3 L167.38 634 L167.58 630.91 L167.77 627.74 L167.96 624.6 L168.16 621.6 L168.35 618.85 L168.56 616.46 L168.77 614.53 L169 613.18 L169.24 612.46 L169.5 612.29 L169.77 612.59 L170.05 613.24 L170.33 614.17 L170.61 615.26 L170.89 616.42 L171.16 617.56 L171.43 618.81 L171.71 620.33 L171.99 622.04 L172.27 623.86 L172.55 625.72 L172.82 627.53 L173.08 629.22 L173.32 630.71 L173.54 632.04 L173.75 633.29 L173.94 634.47 L174.13 635.58 L174.32 636.63 L174.51 637.62 L174.72 638.57 L174.94 639.48 L175.18 640.34 L175.43 641.16 L175.69 641.92 L175.95 642.63 L176.23 643.29 L176.51 643.9 L176.8 644.45 L177.1 644.96 L177.41 645.4 L177.74 645.76 L178.07 646.07 L178.42 646.33 L178.76 646.55 L179.11 646.76 L179.46 646.95 L179.8 647.15 L180.14 647.34 L180.49 647.5 L180.84 647.64 L181.18 647.77 L181.53 647.89 L181.86 648 L182.19 648.12 L182.5 648.25 L182.8 648.37 L183.08 648.46 L183.35 648.54 L183.61 648.62 L183.87 648.73 L184.13 648.88 L184.39 649.08 L184.66 649.34 L184.93 649.68 L185.19 650.08 L185.45 650.53 L185.71 651.02 L185.97 651.54 L186.24 652.08 L186.52 652.63 L186.82 653.18 L187.13 653.76 L187.46 654.39 L187.79 655.05 L188.14 655.71 L188.48 656.37 L188.83 657.01 L189.18 657.59 L189.52 658.11 L189.85 658.57 L190.17 659 L190.49 659.4 L190.8 659.76 L191.13 660.08 L191.47 660.37 L191.83 660.63 L192.22 660.85 L192.57 661.03 L192.86 661.16 L193.13 661.24 L193.44 661.3 L193.82 661.33 L194.35 661.35 L195.06 661.37 L196 661.4 L197.31 661.4 L199.01 661.4 L200.94 661.4 L202.99 661.4 L205 661.4 L206.85 661.4 L208.39 661.4 L209.5 661.4" stroke="#a8405c" stroke-width="0.8" fill="none" stroke-linejoin="round"/>
<path d="M223 661.4 L223.44 661.4 L224.05 661.4 L224.77 661.4 L225.56 661.4 L226.38 661.4 L227.15 661.4 L227.84 661.4 L228.4 661.4 L228.82 659.75 L229.16 657.59 L229.42 655.03 L229.65 652.15 L229.85 649.06 L230.06 645.86 L230.29 642.63 L230.56 639.48 L230.88 636.06 L231.22 632.14 L231.57 627.97 L231.93 623.79 L232.28 619.87 L232.63 616.44 L232.96 613.76 L233.26 612.08 L233.53 611.51 L233.78 611.87 L234 612.95 L234.22 614.55 L234.44 616.45 L234.66 618.45 L234.89 620.35 L235.15 621.94 L235.43 623.31 L235.73 624.68 L236.03 626.06 L236.35 627.49 L236.66 628.98 L236.98 630.55 L237.29 632.22 L237.58 634 L237.86 635.98 L238.14 638.18 L238.41 640.51 L238.68 642.9 L238.94 645.28 L239.21 647.56 L239.47 649.67 L239.74 651.54 L239.78 653.2 L239.51 654.77 L239.1 656.23 L238.76 657.56 L238.68 658.76 L239.04 659.81 L240.05 660.69 L241.9 661.4 L244.95 661.4 L249.18 661.4 L254.19 661.4 L259.58 661.4 L264.96 661.4 L269.92 661.4 L274.07 661.4 L277 661.4" stroke="#aaa" stroke-width="0.7" fill="none" stroke-dasharray="1 0.6" stroke-linejoin="round"/>
<path d="M223 661.4 L223.39 661.4 L223.94 661.4 L224.59 661.4 L225.29 661.4 L226.02 661.4 L226.72 661.4 L227.35 661.4 L227.86 661.4 L228.25 659.75 L228.57 657.62 L228.83 655.07 L229.06 652.22 L229.27 649.14 L229.49 645.94 L229.73 642.68 L230.02 639.48 L230.36 635.97 L230.73 631.93 L231.12 627.61 L231.52 623.28 L231.92 619.19 L232.3 615.6 L232.66 612.78 L232.99 610.98 L233.27 610.33 L233.53 610.62 L233.75 611.64 L233.97 613.18 L234.18 615.02 L234.39 616.97 L234.63 618.8 L234.88 620.3 L235.16 621.54 L235.45 622.73 L235.75 623.93 L236.06 625.16 L236.38 626.48 L236.69 627.9 L237 629.49 L237.31 631.26 L237.62 633.32 L237.92 635.67 L238.23 638.21 L238.54 640.85 L238.85 643.49 L239.15 646.03 L239.45 648.38 L239.74 650.44 L239.8 652.28 L239.53 654.01 L239.12 655.63 L238.78 657.12 L238.69 658.45 L239.05 659.62 L240.06 660.61 L241.9 661.4 L244.95 661.4 L249.18 661.4 L254.19 661.4 L259.58 661.4 L264.96 661.4 L269.92 661.4 L274.07 661.4 L277 661.4" stroke="#333" stroke-width="0.55" fill="none" stroke-linejoin="round"/>
<path d="M223 654.82 L223.21 654.11 L223.49 653.21 L223.81 652.14 L224.18 650.92 L224.57 649.57 L224.96 648.12 L225.34 646.58 L225.7 644.96 L226.04 643.21 L226.38 641.29 L226.71 639.23 L227.05 637.08 L227.39 634.89 L227.72 632.71 L228.06 630.57 L228.4 628.52 L228.74 626.46 L229.09 624.31 L229.45 622.13 L229.8 619.99 L230.15 617.96 L230.48 616.1 L230.8 614.48 L231.1 613.18 L231.38 612.18 L231.63 611.44 L231.87 610.91 L232.1 610.57 L232.32 610.39 L232.54 610.32 L232.76 610.35 L232.99 610.44 L233.22 610.65 L233.45 611.04 L233.68 611.58 L233.9 612.22 L234.13 612.9 L234.37 613.6 L234.62 614.25 L234.88 614.82 L235.16 615.28 L235.45 615.68 L235.75 616.03 L236.06 616.4 L236.38 616.8 L236.69 617.29 L237 617.89 L237.31 618.66 L237.62 619.64 L237.92 620.84 L238.23 622.18 L238.54 623.59 L238.85 625 L239.15 626.34 L239.45 627.53 L239.74 628.52 L240.02 629.27 L240.29 629.84 L240.55 630.28 L240.8 630.64 L241.06 630.98 L241.33 631.35 L241.61 631.79 L241.9 632.36 L242.21 633.01 L242.54 633.69 L242.87 634.4 L243.22 635.16 L243.56 635.98 L243.91 636.88 L244.26 637.86 L244.6 638.93 L244.93 640.16 L245.26 641.54 L245.59 643.03 L245.92 644.58 L246.25 646.15 L246.59 647.68 L246.94 649.13 L247.3 650.44 L247.67 651.67 L248.03 652.89 L248.4 654.08 L248.78 655.2 L249.18 656.24 L249.6 657.18 L250.05 658 L250.54 658.66 L251.07 659.16 L251.63 659.51 L252.22 659.74 L252.84 659.86 L253.47 659.9 L254.11 659.88 L254.76 659.83 L255.4 659.76 L256.06 659.63 L256.75 659.41 L257.46 659.13 L258.17 658.8 L258.87 658.45 L259.55 658.11 L260.2 657.81 L260.8 657.56 L261.35 657.36 L261.85 657.17 L262.31 657 L262.76 656.84 L263.19 656.71 L263.63 656.6 L264.09 656.52 L264.58 656.47 L265.09 656.45 L265.62 656.48 L266.16 656.53 L266.71 656.61 L267.26 656.7 L267.81 656.8 L268.36 656.91 L268.9 657.02 L269.45 657.13 L270.01 657.25 L270.58 657.39 L271.14 657.53 L271.7 657.68 L272.23 657.83 L272.74 657.97 L273.22 658.11 L273.67 658.24 L274.11 658.36 L274.53 658.47 L274.92 658.59 L275.29 658.72 L275.63 658.86 L275.93 659.02 L276.19 659.21 L276.4 659.44 L276.56 659.73 L276.69 660.05 L276.78 660.37 L276.85 660.69 L276.91 660.98 L276.95 661.22 L277 661.4" stroke="#4040b0" stroke-width="0.9" fill="none" stroke-linejoin="round"/>
<path d="M223 655.92 L223.21 655.2 L223.49 654.3 L223.81 653.23 L224.18 652.02 L224.57 650.67 L224.96 649.22 L225.34 647.67 L225.7 646.06 L226.04 644.31 L226.38 642.38 L226.71 640.32 L227.05 638.18 L227.39 635.99 L227.72 633.8 L228.06 631.66 L228.4 629.62 L228.74 627.56 L229.09 625.42 L229.44 623.25 L229.78 621.12 L230.13 619.09 L230.46 617.23 L230.79 615.61 L231.1 614.27 L231.4 613.23 L231.68 612.42 L231.96 611.82 L232.23 611.39 L232.49 611.13 L232.75 610.98 L233.01 610.95 L233.26 610.98 L233.51 611.16 L233.74 611.54 L233.96 612.07 L234.19 612.7 L234.41 613.39 L234.65 614.09 L234.89 614.77 L235.15 615.37 L235.43 615.88 L235.73 616.34 L236.03 616.77 L236.35 617.22 L236.66 617.71 L236.98 618.27 L237.29 618.94 L237.58 619.75 L237.86 620.76 L238.14 621.96 L238.41 623.29 L238.68 624.68 L238.94 626.08 L239.21 627.41 L239.47 628.61 L239.74 629.62 L240.01 630.41 L240.27 631.05 L240.53 631.57 L240.79 632.01 L241.05 632.44 L241.32 632.88 L241.6 633.38 L241.9 634 L242.21 634.69 L242.54 635.39 L242.87 636.11 L243.22 636.88 L243.56 637.69 L243.91 638.57 L244.26 639.53 L244.6 640.58 L244.93 641.76 L245.26 643.1 L245.59 644.53 L245.92 646.02 L246.25 647.51 L246.59 648.96 L246.94 650.32 L247.3 651.54 L247.67 652.65 L248.03 653.73 L248.4 654.75 L248.78 655.71 L249.18 656.6 L249.6 657.39 L250.05 658.08 L250.54 658.66 L251.07 659.1 L251.63 659.42 L252.22 659.63 L252.84 659.76 L253.47 659.81 L254.11 659.82 L254.76 659.79 L255.4 659.76 L256.06 659.68 L256.75 659.52 L257.46 659.32 L258.17 659.07 L258.87 658.81 L259.55 658.55 L260.2 658.31 L260.8 658.11 L261.35 657.94 L261.85 657.76 L262.31 657.59 L262.76 657.43 L263.19 657.28 L263.63 657.16 L264.09 657.07 L264.58 657.02 L265.09 657 L265.62 657.02 L266.16 657.08 L266.71 657.15 L267.26 657.25 L267.81 657.35 L268.36 657.46 L268.9 657.56 L269.45 657.67 L270.01 657.8 L270.58 657.93 L271.14 658.08 L271.7 658.22 L272.23 658.37 L272.74 658.52 L273.22 658.66 L273.67 658.79 L274.11 658.92 L274.53 659.05 L274.92 659.17 L275.29 659.3 L275.63 659.44 L275.93 659.59 L276.19 659.76 L276.4 659.95 L276.56 660.17 L276.69 660.4 L276.78 660.65 L276.85 660.88 L276.91 661.09 L276.95 661.27 L277 661.4" stroke="#a8405c" stroke-width="0.8" fill="none" stroke-linejoin="round"/>
<path d="M19 738.9 L19.74 738.9 L20.77 738.9 L22.01 738.9 L23.35 738.9 L24.71 738.9 L25.99 738.9 L27.08 738.9 L27.91 738.9 L28.46 736.75 L28.83 733.85 L29.06 730.39 L29.19 726.57 L29.26 722.58 L29.31 718.61 L29.39 714.85 L29.53 711.5 L29.71 708.23 L29.89 704.71 L30.06 701.14 L30.22 697.73 L30.39 694.67 L30.55 692.16 L30.71 690.39 L30.88 689.58 L31.05 689.88 L31.21 691.16 L31.37 693.22 L31.54 695.81 L31.7 698.73 L31.87 701.73 L32.05 704.6 L32.23 707.12 L32.42 709.45 L32.62 711.89 L32.82 714.38 L33.02 716.88 L33.23 719.31 L33.44 721.64 L33.65 723.8 L33.85 725.75 L34.06 727.5 L34.27 729.11 L34.48 730.59 L34.69 731.95 L34.9 733.18 L35.1 734.29 L35.29 735.28 L35.47 736.16 L35.39 736.89 L34.95 737.45 L34.36 737.87 L33.83 738.18 L33.58 738.41 L33.81 738.59 L34.73 738.74 L36.55 738.9 L39.66 738.9 L44.03 738.9 L49.23 738.9 L54.84 738.9 L60.45 738.9 L65.62 738.9 L69.95 738.9 L73 738.9" stroke="#aaa" stroke-width="0.7" fill="none" stroke-dasharray="1 0.6" stroke-linejoin="round"/>
<path d="M19 738.9 L19.71 738.9 L20.72 738.9 L21.92 738.9 L23.22 738.9 L24.53 738.9 L25.77 738.9 L26.84 738.9 L27.64 738.9 L28.18 736.76 L28.54 733.89 L28.77 730.46 L28.91 726.67 L28.98 722.7 L29.04 718.72 L29.12 714.93 L29.26 711.5 L29.44 708.09 L29.62 704.36 L29.79 700.55 L29.95 696.88 L30.12 693.55 L30.28 690.81 L30.44 688.86 L30.61 687.94 L30.78 688.2 L30.94 689.5 L31.1 691.62 L31.27 694.31 L31.43 697.33 L31.6 700.45 L31.78 703.42 L31.96 706.02 L32.15 708.42 L32.35 710.93 L32.55 713.49 L32.75 716.06 L32.96 718.56 L33.17 720.96 L33.38 723.19 L33.58 725.2 L33.79 727.02 L34 728.71 L34.21 730.27 L34.42 731.71 L34.63 733.01 L34.83 734.19 L35.02 735.24 L35.2 736.16 L35.12 736.91 L34.67 737.49 L34.08 737.91 L33.55 738.22 L33.29 738.43 L33.52 738.6 L34.44 738.74 L36.28 738.9 L39.42 738.9 L43.81 738.9 L49.05 738.9 L54.71 738.9 L60.35 738.9 L65.57 738.9 L69.92 738.9 L73 738.9" stroke="#333" stroke-width="0.55" fill="none" stroke-linejoin="round"/>
<path d="M19 738.9 L19.71 738.9 L20.72 738.9 L21.92 738.9 L23.22 738.9 L24.53 738.9 L25.77 738.9 L26.84 738.9 L27.64 738.9 L28.18 736.76 L28.54 733.9 L28.76 730.49 L28.89 726.71 L28.96 722.74 L29.02 718.76 L29.11 714.95 L29.26 711.5 L29.47 708.09 L29.68 704.43 L29.89 700.7 L30.1 697.08 L30.31 693.76 L30.51 690.91 L30.7 688.73 L30.88 687.39 L31.04 687.03 L31.18 687.55 L31.31 688.74 L31.44 690.4 L31.56 692.34 L31.68 694.35 L31.82 696.24 L31.96 697.8 L32.11 699.14 L32.25 700.48 L32.4 701.82 L32.55 703.18 L32.71 704.55 L32.89 705.93 L33.09 707.33 L33.31 708.76 L33.55 710.24 L33.81 711.8 L34.08 713.39 L34.37 714.99 L34.68 716.57 L35.01 718.08 L35.36 719.51 L35.74 720.82 L36.14 722 L36.56 723.09 L37.01 724.11 L37.48 725.06 L37.96 725.96 L38.47 726.83 L38.99 727.66 L39.52 728.49 L40.07 729.29 L40.65 730.05 L41.24 730.78 L41.85 731.47 L42.47 732.13 L43.1 732.76 L43.74 733.38 L44.38 733.97 L45.04 734.54 L45.72 735.11 L46.41 735.65 L47.11 736.16 L47.81 736.64 L48.49 737.08 L49.15 737.47 L49.78 737.8 L50.27 738.08 L50.59 738.3 L50.84 738.46 L51.1 738.59 L51.46 738.69 L52.02 738.77 L52.87 738.83 L54.1 738.9 L55.89 738.9 L58.24 738.9 L60.95 738.9 L63.82 738.9 L66.66 738.9 L69.26 738.9 L71.44 738.9 L73 738.9" stroke="#4040b0" stroke-width="0.9" fill="none" stroke-linejoin="round"/>
<path d="M19 738.9 L19.71 738.9 L20.72 738.9 L21.92 738.9 L23.22 738.9 L24.53 738.9 L25.77 738.9 L26.84 738.9 L27.64 738.9 L28.18 736.76 L28.54 733.89 L28.76 730.46 L28.89 726.67 L28.96 722.7 L29.02 718.72 L29.11 714.93 L29.26 711.5 L29.47 708.15 L29.68 704.57 L29.89 700.94 L30.1 697.42 L30.31 694.2 L30.51 691.43 L30.7 689.28 L30.88 687.94 L31.04 687.52 L31.18 687.91 L31.31 688.95 L31.44 690.44 L31.56 692.19 L31.68 694.04 L31.82 695.78 L31.96 697.25 L32.11 698.54 L32.25 699.88 L32.4 701.24 L32.55 702.63 L32.71 704.03 L32.89 705.43 L33.09 706.83 L33.31 708.21 L33.55 709.61 L33.81 711.05 L34.08 712.51 L34.37 713.97 L34.68 715.38 L35.01 716.74 L35.36 718.01 L35.74 719.17 L36.14 720.21 L36.56 721.14 L37.01 721.98 L37.48 722.77 L37.96 723.51 L38.47 724.25 L38.99 724.98 L39.52 725.75 L40.07 726.53 L40.65 727.31 L41.24 728.07 L41.85 728.83 L42.47 729.58 L43.1 730.32 L43.74 731.05 L44.38 731.78 L45.04 732.51 L45.72 733.27 L46.41 734.04 L47.11 734.79 L47.81 735.51 L48.49 736.17 L49.15 736.76 L49.78 737.26 L50.27 737.66 L50.59 737.98 L50.84 738.23 L51.1 738.42 L51.46 738.57 L52.02 738.69 L52.87 738.8 L54.1 738.9 L55.89 738.9 L58.24 738.9 L60.95 738.9 L63.82 738.9 L66.66 738.9 L69.26 738.9 L71.44 738.9 L73 738.9" stroke="#a8405c" stroke-width="0.8" fill="none" stroke-linejoin="round"/>
<path d="M87 738.9 L87.78 738.9 L88.88 738.9 L90.2 738.9 L91.62 738.9 L93.06 738.9 L94.42 738.9 L95.58 738.9 L96.45 738.9 L97.03 736.75 L97.41 733.85 L97.63 730.39 L97.75 726.57 L97.81 722.58 L97.85 718.61 L97.92 714.85 L98.07 711.5 L98.27 708.2 L98.47 704.61 L98.68 700.95 L98.88 697.46 L99.08 694.35 L99.28 691.85 L99.49 690.18 L99.69 689.58 L99.89 690.22 L100.09 691.98 L100.3 694.59 L100.5 697.8 L100.7 701.35 L100.91 704.99 L101.11 708.46 L101.31 711.5 L101.51 714.35 L101.72 717.37 L101.92 720.44 L102.12 723.49 L102.32 726.4 L102.53 729.1 L102.73 731.47 L102.93 733.42 L102.89 734.93 L102.52 736.07 L102.01 736.92 L101.56 737.53 L101.39 737.97 L101.7 738.3 L102.68 738.59 L104.55 738.9 L107.69 738.9 L112.07 738.9 L117.27 738.9 L122.88 738.9 L128.47 738.9 L133.63 738.9 L137.95 738.9 L141 738.9" stroke="#aaa" stroke-width="0.7" fill="none" stroke-dasharray="1 0.6" stroke-linejoin="round"/>
<path d="M87 738.9 L87.76 738.9 L88.83 738.9 L90.1 738.9 L91.49 738.9 L92.89 738.9 L94.2 738.9 L95.33 738.9 L96.18 738.9 L96.74 736.76 L97.12 733.89 L97.34 730.46 L97.46 726.67 L97.52 722.7 L97.57 718.72 L97.65 714.93 L97.8 711.5 L98 708.05 L98.2 704.23 L98.41 700.31 L98.61 696.53 L98.81 693.15 L99.02 690.42 L99.22 688.6 L99.42 687.94 L99.62 688.64 L99.83 690.55 L100.03 693.39 L100.23 696.88 L100.43 700.71 L100.64 704.62 L100.84 708.31 L101.04 711.5 L101.24 714.43 L101.44 717.48 L101.65 720.56 L101.85 723.59 L102.05 726.48 L102.25 729.13 L102.46 731.48 L102.66 733.42 L102.62 734.93 L102.24 736.07 L101.73 736.92 L101.28 737.53 L101.1 737.97 L101.41 738.3 L102.4 738.59 L104.28 738.9 L107.44 738.9 L111.85 738.9 L117.09 738.9 L122.74 738.9 L128.38 738.9 L133.58 738.9 L137.93 738.9 L141 738.9" stroke="#333" stroke-width="0.55" fill="none" stroke-linejoin="round"/>
<path d="M87 738.9 L87.76 738.9 L88.81 738.9 L90.08 738.9 L91.45 738.9 L92.85 738.9 L94.16 738.9 L95.31 738.9 L96.18 738.9 L96.79 736.76 L97.22 733.89 L97.52 730.46 L97.72 726.67 L97.86 722.7 L97.98 718.72 L98.13 714.93 L98.34 711.5 L98.59 708.09 L98.84 704.36 L99.09 700.55 L99.34 696.88 L99.57 693.55 L99.8 690.81 L100.02 688.86 L100.23 687.94 L100.42 688.2 L100.6 689.5 L100.76 691.62 L100.92 694.31 L101.08 697.33 L101.24 700.45 L101.4 703.42 L101.58 706.02 L101.77 708.43 L101.95 710.97 L102.14 713.57 L102.34 716.16 L102.54 718.68 L102.75 721.07 L102.97 723.27 L103.2 725.2 L103.44 726.88 L103.68 728.36 L103.92 729.68 L104.18 730.85 L104.45 731.9 L104.73 732.84 L105.03 733.71 L105.36 734.52 L105.72 735.23 L106.11 735.81 L106.52 736.29 L106.95 736.67 L107.38 737 L107.8 737.28 L108.21 737.54 L108.6 737.8 L108.78 738.05 L108.68 738.26 L108.47 738.42 L108.3 738.56 L108.33 738.67 L108.74 738.75 L109.67 738.83 L111.3 738.9 L113.92 738.9 L117.52 738.9 L121.77 738.9 L126.32 738.9 L130.85 738.9 L135.03 738.9 L138.52 738.9 L141 738.9" stroke="#4040b0" stroke-width="0.9" fill="none" stroke-linejoin="round"/>
<path d="M87 738.9 L87.76 738.9 L88.81 738.9 L90.08 738.9 L91.45 738.9 L92.85 738.9 L94.16 738.9 L95.31 738.9 L96.18 738.9 L96.79 736.76 L97.21 733.89 L97.5 730.46 L97.7 726.67 L97.84 722.7 L97.96 718.72 L98.12 714.93 L98.34 711.5 L98.61 708.12 L98.88 704.49 L99.15 700.79 L99.42 697.22 L99.69 693.95 L99.96 691.19 L100.23 689.12 L100.5 687.94 L100.77 687.81 L101.05 688.65 L101.33 690.21 L101.61 692.25 L101.89 694.55 L102.16 696.85 L102.42 698.93 L102.66 700.54 L102.88 701.74 L103.09 702.77 L103.28 703.7 L103.47 704.58 L103.66 705.47 L103.85 706.42 L104.06 707.5 L104.28 708.76 L104.53 710.26 L104.79 711.95 L105.07 713.79 L105.36 715.68 L105.65 717.56 L105.93 719.37 L106.19 721.02 L106.44 722.46 L106.66 723.67 L106.84 724.73 L107.02 725.66 L107.18 726.5 L107.36 727.28 L107.55 728.03 L107.78 728.79 L108.06 729.58 L108.38 730.41 L108.73 731.23 L109.11 732.05 L109.51 732.84 L109.93 733.6 L110.38 734.32 L110.83 735 L111.3 735.61 L111.64 736.18 L111.81 736.7 L111.92 737.19 L112.08 737.63 L112.41 738.03 L113.03 738.37 L114.06 738.67 L115.62 738.9 L117.96 738.9 L121.08 738.9 L124.71 738.9 L128.58 738.9 L132.42 738.9 L135.95 738.9 L138.9 738.9 L141 738.9" stroke="#a8405c" stroke-width="0.8" fill="none" stroke-linejoin="round"/>
<path d="M155.5 738.9 L156.01 738.9 L156.71 738.9 L157.55 738.9 L158.47 738.9 L159.4 738.9 L160.3 738.9 L161.09 738.9 L161.71 738.9 L162.17 737.5 L162.52 735.71 L162.79 733.59 L163.01 731.19 L163.2 728.56 L163.39 725.74 L163.6 722.77 L163.87 719.72 L164.19 716.18 L164.52 711.93 L164.87 707.29 L165.22 702.6 L165.57 698.15 L165.92 694.29 L166.25 691.32 L166.57 689.58 L166.86 689.24 L167.14 690.09 L167.4 691.82 L167.65 694.14 L167.9 696.74 L168.16 699.33 L168.44 701.61 L168.73 703.28 L169.05 704.42 L169.39 705.35 L169.75 706.12 L170.11 706.81 L170.47 707.46 L170.82 708.15 L171.14 708.93 L171.43 709.86 L171.69 710.92 L171.92 712.05 L172.14 713.24 L172.34 714.48 L172.53 715.76 L172.71 717.06 L172.88 718.39 L173.05 719.72 L173.21 721.11 L173.36 722.57 L173.49 724.08 L173.62 725.61 L173.75 727.12 L173.87 728.58 L174 729.96 L174.13 731.23 L174.04 732.42 L173.62 733.6 L173.08 734.72 L172.59 735.78 L172.37 736.75 L172.6 737.61 L173.49 738.33 L175.21 738.9 L178.14 738.9 L182.25 738.9 L187.14 738.9 L192.42 738.9 L197.69 738.9 L202.56 738.9 L206.63 738.9 L209.5 738.9" stroke="#aaa" stroke-width="0.7" fill="none" stroke-dasharray="1 0.6" stroke-linejoin="round"/>
<path d="M155.5 738.9 L155.98 738.9 L156.66 738.9 L157.46 738.9 L158.34 738.9 L159.23 738.9 L160.08 738.9 L160.84 738.9 L161.44 738.9 L161.89 737.5 L162.23 735.74 L162.5 733.64 L162.72 731.26 L162.92 728.64 L163.11 725.81 L163.33 722.83 L163.6 719.72 L163.92 716.09 L164.25 711.71 L164.6 706.91 L164.95 702.05 L165.3 697.44 L165.65 693.42 L165.98 690.32 L166.3 688.48 L166.59 688.09 L166.87 688.92 L167.13 690.64 L167.38 692.97 L167.63 695.59 L167.89 698.21 L168.17 700.51 L168.46 702.18 L168.78 703.32 L169.12 704.25 L169.48 705.03 L169.84 705.71 L170.2 706.37 L170.55 707.05 L170.87 707.83 L171.16 708.76 L171.42 709.82 L171.65 710.94 L171.87 712.12 L172.07 713.35 L172.26 714.62 L172.44 715.93 L172.61 717.26 L172.78 718.62 L172.94 720.05 L173.09 721.57 L173.22 723.15 L173.35 724.75 L173.48 726.34 L173.6 727.88 L173.73 729.34 L173.86 730.68 L173.77 731.95 L173.35 733.2 L172.79 734.4 L172.31 735.54 L172.08 736.59 L172.32 737.51 L173.2 738.29 L174.94 738.9 L177.89 738.9 L182.04 738.9 L186.97 738.9 L192.29 738.9 L197.6 738.9 L202.51 738.9 L206.6 738.9 L209.5 738.9" stroke="#333" stroke-width="0.55" fill="none" stroke-linejoin="round"/>
<path d="M155.5 738.9 L155.99 738.9 L156.65 738.9 L157.45 738.9 L158.32 738.9 L159.23 738.9 L160.13 738.9 L160.97 738.9 L161.71 738.9 L162.36 738.05 L162.98 736.9 L163.56 735.54 L164.12 734.04 L164.67 732.45 L165.21 730.86 L165.75 729.33 L166.3 727.94 L166.87 726.6 L167.45 725.2 L168.03 723.8 L168.61 722.43 L169.17 721.12 L169.7 719.94 L170.19 718.91 L170.62 718.08 L170.99 717.43 L171.29 716.93 L171.54 716.57 L171.77 716.33 L171.99 716.21 L172.21 716.19 L172.47 716.27 L172.78 716.43 L173.13 716.74 L173.51 717.23 L173.92 717.85 L174.33 718.56 L174.76 719.31 L175.18 720.05 L175.61 720.75 L176.02 721.36 L176.43 721.98 L176.83 722.68 L177.24 723.41 L177.64 724.1 L178.05 724.69 L178.45 725.11 L178.86 725.3 L179.26 725.2 L179.67 724.79 L180.08 724.12 L180.5 723.24 L180.91 722.19 L181.32 720.99 L181.73 719.7 L182.12 718.35 L182.5 716.98 L182.86 715.51 L183.21 713.88 L183.55 712.12 L183.88 710.3 L184.21 708.46 L184.54 706.64 L184.87 704.9 L185.2 703.28 L185.54 701.71 L185.89 700.12 L186.24 698.54 L186.58 697.01 L186.93 695.59 L187.26 694.3 L187.59 693.2 L187.9 692.32 L188.2 691.7 L188.48 691.3 L188.75 691.09 L189.01 691.02 L189.27 691.04 L189.53 691.11 L189.79 691.19 L190.06 691.22 L190.33 691.19 L190.6 691.11 L190.87 691.04 L191.14 691.02 L191.41 691.09 L191.68 691.3 L191.95 691.7 L192.22 692.32 L192.48 693.15 L192.71 694.15 L192.94 695.3 L193.16 696.6 L193.41 698.05 L193.69 699.65 L194.01 701.4 L194.38 703.28 L194.82 705.44 L195.33 707.94 L195.89 710.66 L196.47 713.49 L197.06 716.31 L197.65 719 L198.2 721.46 L198.7 723.56 L199.16 725.33 L199.6 726.9 L200.02 728.28 L200.42 729.52 L200.81 730.62 L201.19 731.62 L201.57 732.55 L201.94 733.42 L202.31 734.2 L202.67 734.85 L203.02 735.4 L203.36 735.85 L203.69 736.24 L204.02 736.59 L204.33 736.92 L204.64 737.26 L204.93 737.58 L205.21 737.86 L205.47 738.11 L205.72 738.32 L205.97 738.5 L206.23 738.66 L206.51 738.79 L206.8 738.9 L207.13 738.9 L207.5 738.9 L207.89 738.9 L208.28 738.9 L208.66 738.9 L209 738.9 L209.29 738.9 L209.5 738.9" stroke="#4040b0" stroke-width="0.9" fill="none" stroke-linejoin="round"/>
<path d="M155.5 738.9 L155.99 738.9 L156.65 738.9 L157.45 738.9 L158.32 738.9 L159.23 738.9 L160.13 738.9 L160.97 738.9 L161.71 738.9 L162.36 737.81 L162.98 736.34 L163.56 734.57 L164.12 732.63 L164.67 730.62 L165.21 728.64 L165.75 726.8 L166.3 725.2 L166.87 723.78 L167.45 722.4 L168.03 721.07 L168.61 719.82 L169.17 718.66 L169.7 717.61 L170.19 716.68 L170.62 715.88 L170.99 715.21 L171.29 714.62 L171.54 714.13 L171.77 713.76 L171.99 713.52 L172.21 713.42 L172.47 713.47 L172.78 713.69 L173.13 714.16 L173.51 714.88 L173.92 715.8 L174.33 716.84 L174.76 717.94 L175.18 719.01 L175.61 719.99 L176.02 720.82 L176.43 721.57 L176.83 722.36 L177.24 723.14 L177.64 723.86 L178.05 724.48 L178.45 724.94 L178.86 725.2 L179.26 725.2 L179.66 724.94 L180.07 724.47 L180.47 723.8 L180.88 722.97 L181.28 722.01 L181.69 720.95 L182.09 719.81 L182.5 718.62 L182.91 717.33 L183.31 715.88 L183.72 714.31 L184.12 712.66 L184.53 710.97 L184.93 709.27 L185.34 707.61 L185.74 706.02 L186.15 704.45 L186.58 702.83 L187 701.19 L187.43 699.58 L187.84 698.02 L188.25 696.54 L188.63 695.18 L188.98 693.96 L189.3 692.83 L189.6 691.72 L189.87 690.68 L190.13 689.75 L190.38 688.97 L190.63 688.38 L190.88 688.02 L191.14 687.94 L191.41 688.15 L191.67 688.64 L191.93 689.36 L192.19 690.26 L192.45 691.33 L192.72 692.51 L193 693.76 L193.3 695.06 L193.61 696.45 L193.94 698 L194.27 699.67 L194.62 701.43 L194.96 703.25 L195.31 705.1 L195.66 706.95 L196 708.76 L196.33 710.59 L196.66 712.5 L196.99 714.44 L197.32 716.4 L197.65 718.32 L197.99 720.18 L198.34 721.94 L198.7 723.56 L199.08 725.07 L199.48 726.51 L199.9 727.88 L200.32 729.17 L200.74 730.38 L201.16 731.49 L201.56 732.51 L201.94 733.42 L202.31 734.2 L202.67 734.85 L203.02 735.4 L203.36 735.85 L203.69 736.24 L204.02 736.59 L204.33 736.92 L204.64 737.26 L204.93 737.58 L205.21 737.86 L205.47 738.11 L205.72 738.32 L205.97 738.5 L206.23 738.66 L206.51 738.79 L206.8 738.9 L207.13 738.9 L207.5 738.9 L207.89 738.9 L208.28 738.9 L208.66 738.9 L209 738.9 L209.29 738.9 L209.5 738.9" stroke="#a8405c" stroke-width="0.8" fill="none" stroke-linejoin="round"/>
<path d="M223 738.9 L223.53 738.9 L224.26 738.9 L225.13 738.9 L226.09 738.9 L227.06 738.9 L227.99 738.9 L228.82 738.9 L229.48 738.9 L229.98 736.75 L230.37 733.85 L230.68 730.39 L230.93 726.57 L231.16 722.58 L231.38 718.61 L231.62 714.85 L231.91 711.5 L232.24 708.27 L232.59 704.84 L232.95 701.39 L233.31 698.07 L233.66 695.07 L234 692.54 L234.32 690.66 L234.61 689.58 L234.87 689.48 L235.1 690.28 L235.32 691.76 L235.52 693.69 L235.71 695.86 L235.89 698.06 L236.06 700.05 L236.23 701.64 L236.38 702.86 L236.51 703.96 L236.63 704.97 L236.74 705.95 L236.85 706.94 L236.98 707.98 L237.13 709.12 L237.31 710.4 L237.53 711.84 L237.77 713.4 L238.04 715.04 L238.32 716.74 L238.61 718.47 L238.9 720.2 L239.19 721.91 L239.47 723.56 L239.75 725.23 L240.04 726.98 L240.33 728.76 L240.62 730.51 L240.9 732.18 L241.17 733.72 L241.41 735.06 L241.63 736.16 L241.59 736.99 L241.2 737.6 L240.65 738.03 L240.16 738.32 L239.92 738.51 L240.13 738.64 L240.99 738.76 L242.71 738.9 L245.64 738.9 L249.75 738.9 L254.64 738.9 L259.92 738.9 L265.19 738.9 L270.06 738.9 L274.13 738.9 L277 738.9" stroke="#aaa" stroke-width="0.7" fill="none" stroke-dasharray="1 0.6" stroke-linejoin="round"/>
<path d="M223 738.9 L223.5 738.9 L224.2 738.9 L225.04 738.9 L225.95 738.9 L226.89 738.9 L227.78 738.9 L228.57 738.9 L229.21 738.9 L229.69 736.76 L230.08 733.89 L230.39 730.46 L230.64 726.67 L230.88 722.7 L231.1 718.72 L231.35 714.93 L231.64 711.5 L231.97 708.12 L232.32 704.49 L232.68 700.79 L233.04 697.22 L233.39 693.95 L233.73 691.19 L234.05 689.12 L234.34 687.94 L234.6 687.81 L234.83 688.65 L235.05 690.21 L235.25 692.25 L235.44 694.55 L235.62 696.85 L235.79 698.93 L235.96 700.54 L236.11 701.74 L236.24 702.77 L236.36 703.7 L236.47 704.58 L236.58 705.47 L236.71 706.42 L236.86 707.5 L237.04 708.76 L237.26 710.21 L237.5 711.8 L237.77 713.5 L238.05 715.27 L238.34 717.08 L238.63 718.91 L238.92 720.71 L239.2 722.46 L239.48 724.25 L239.77 726.14 L240.06 728.08 L240.35 730 L240.63 731.83 L240.9 733.51 L241.14 734.97 L241.36 736.16 L241.32 737.05 L240.92 737.68 L240.37 738.11 L239.88 738.39 L239.63 738.55 L239.84 738.66 L240.71 738.76 L242.44 738.9 L245.39 738.9 L249.54 738.9 L254.47 738.9 L259.79 738.9 L265.1 738.9 L270.01 738.9 L274.1 738.9 L277 738.9" stroke="#333" stroke-width="0.55" fill="none" stroke-linejoin="round"/>
<path d="M223 738.9 L223.44 738.9 L224.03 738.9 L224.75 738.9 L225.53 738.9 L226.34 738.9 L227.11 738.9 L227.82 738.9 L228.4 738.9 L228.86 736.76 L229.25 733.89 L229.59 730.46 L229.88 726.67 L230.17 722.7 L230.45 718.72 L230.76 714.93 L231.1 711.5 L231.49 708.19 L231.9 704.72 L232.32 701.23 L232.75 697.83 L233.18 694.68 L233.59 691.89 L233.98 689.6 L234.34 687.94 L234.66 687.01 L234.96 686.73 L235.23 686.96 L235.49 687.56 L235.74 688.37 L235.99 689.26 L236.24 690.08 L236.5 690.68 L236.78 691.08 L237.06 691.44 L237.35 691.79 L237.63 692.18 L237.91 692.66 L238.18 693.27 L238.43 694.05 L238.66 695.06 L238.87 696.34 L239.05 697.87 L239.23 699.59 L239.39 701.43 L239.54 703.33 L239.69 705.23 L239.85 707.06 L240.01 708.76 L240.17 710.35 L240.32 711.9 L240.46 713.43 L240.6 714.92 L240.75 716.41 L240.93 717.88 L241.13 719.35 L241.36 720.82 L241.63 722.31 L241.93 723.85 L242.25 725.39 L242.59 726.91 L242.95 728.39 L243.32 729.81 L243.69 731.13 L244.06 732.32 L244.26 733.43 L244.21 734.47 L244.07 735.44 L243.99 736.33 L244.12 737.13 L244.62 737.83 L245.63 738.43 L247.3 738.9 L249.95 738.9 L253.56 738.9 L257.8 738.9 L262.35 738.9 L266.88 738.9 L271.04 738.9 L274.53 738.9 L277 738.9" stroke="#4040b0" stroke-width="0.9" fill="none" stroke-linejoin="round"/>
<path d="M223 738.9 L223.44 738.9 L224.03 738.9 L224.75 738.9 L225.53 738.9 L226.34 738.9 L227.11 738.9 L227.82 738.9 L228.4 738.9 L228.86 736.76 L229.26 733.87 L229.6 730.44 L229.9 726.64 L230.19 722.66 L230.47 718.68 L230.77 714.9 L231.1 711.5 L231.46 708.24 L231.84 704.85 L232.23 701.44 L232.62 698.14 L233 695.08 L233.38 692.36 L233.74 690.12 L234.07 688.48 L234.38 687.54 L234.67 687.21 L234.94 687.36 L235.2 687.87 L235.46 688.59 L235.71 689.38 L235.97 690.12 L236.23 690.68 L236.51 691.06 L236.79 691.41 L237.08 691.77 L237.36 692.18 L237.64 692.68 L237.91 693.3 L238.16 694.08 L238.39 695.06 L238.6 696.29 L238.78 697.76 L238.94 699.4 L239.1 701.16 L239.25 702.97 L239.4 704.8 L239.56 706.56 L239.74 708.21 L239.92 709.78 L240.1 711.32 L240.28 712.84 L240.47 714.34 L240.66 715.84 L240.87 717.32 L241.1 718.79 L241.36 720.27 L241.64 721.76 L241.95 723.29 L242.27 724.82 L242.61 726.33 L242.96 727.81 L243.32 729.22 L243.69 730.55 L244.06 731.78 L244.26 732.92 L244.21 734.03 L244.07 735.08 L243.99 736.06 L244.12 736.94 L244.62 737.72 L245.63 738.38 L247.3 738.9 L249.95 738.9 L253.56 738.9 L257.8 738.9 L262.35 738.9 L266.88 738.9 L271.04 738.9 L274.53 738.9 L277 738.9" stroke="#a8405c" stroke-width="0.8" fill="none" stroke-linejoin="round"/>
</svg>
</body></html>
